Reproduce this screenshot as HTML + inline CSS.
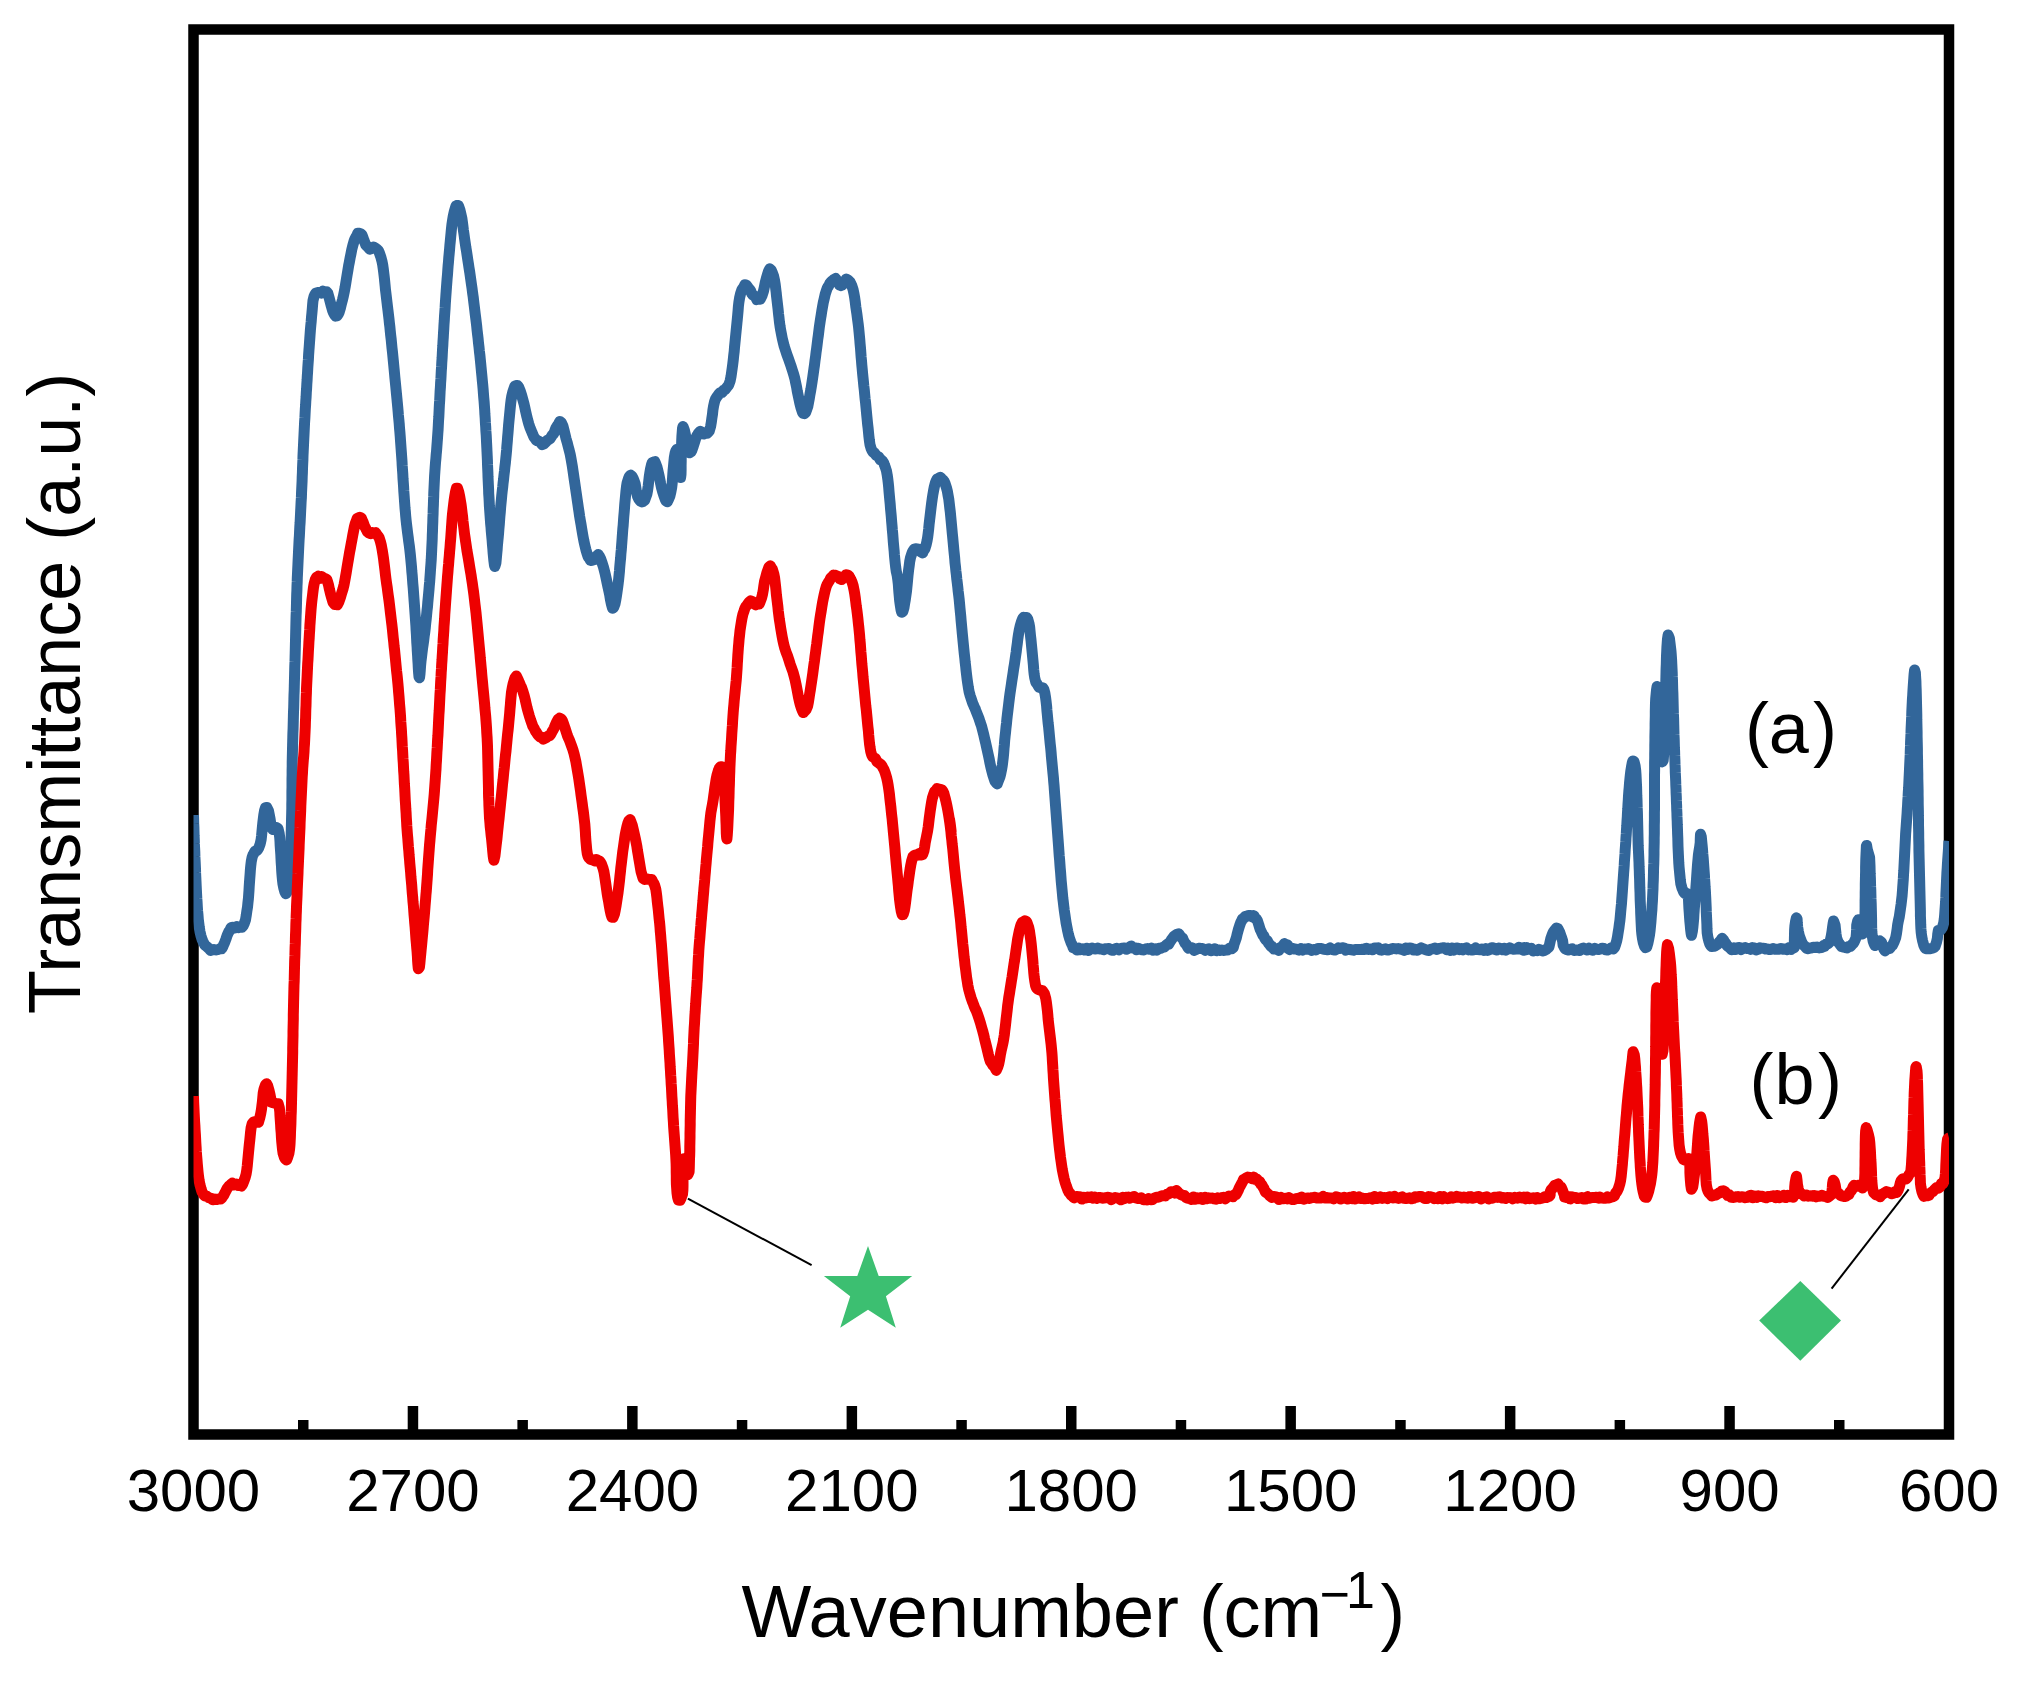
<!DOCTYPE html>
<html><head><meta charset="utf-8"><title>FTIR spectra</title>
<style>
html,body{margin:0;padding:0;background:#fff;}
body{width:2019px;height:1682px;overflow:hidden;}
svg{display:block;}
text{font-family:"Liberation Sans",sans-serif;fill:#000;}
</style></head><body>
<svg width="2019" height="1682" viewBox="0 0 2019 1682">
<defs><clipPath id="plot"><rect x="193.5" y="29.5" width="1755.5" height="1405.0"/></clipPath></defs>
<rect width="2019" height="1682" fill="#fff"/>
<rect x="193.5" y="29.5" width="1755.5" height="1405.0" fill="none" stroke="#000" stroke-width="10.5"/>
<g fill="#000"><rect x="298.0" y="1420" width="10.5" height="12"/><rect x="407.7" y="1406" width="10.5" height="26"/><rect x="517.4" y="1420" width="10.5" height="12"/><rect x="627.1" y="1406" width="10.5" height="26"/><rect x="736.8" y="1420" width="10.5" height="12"/><rect x="846.6" y="1406" width="10.5" height="26"/><rect x="956.3" y="1420" width="10.5" height="12"/><rect x="1066.0" y="1406" width="10.5" height="26"/><rect x="1175.7" y="1420" width="10.5" height="12"/><rect x="1285.4" y="1406" width="10.5" height="26"/><rect x="1395.2" y="1420" width="10.5" height="12"/><rect x="1504.9" y="1406" width="10.5" height="26"/><rect x="1614.6" y="1420" width="10.5" height="12"/><rect x="1724.3" y="1406" width="10.5" height="26"/><rect x="1834.0" y="1420" width="10.5" height="12"/></g>
<g clip-path="url(#plot)" fill="none" stroke-linejoin="round" stroke-linecap="butt" stroke-width="11">
<path stroke="#32669A" d="M193.5,815.1L193.6,819.1L193.7,823.2L193.9,827.3L194.0,831.6L194.1,835.6L194.3,839.7L194.4,844.0L194.6,848.0L194.8,852.1L194.9,856.2L195.1,860.3L195.3,864.4L195.5,868.7L195.6,872.9L195.8,877.2L196.0,881.5L196.2,885.9L196.4,890.2L196.6,894.2L196.8,898.3L197.1,902.4L197.3,906.5L197.6,910.9L198.0,915.1L198.3,919.4L198.8,923.5L199.3,927.5L200.0,931.7L200.9,935.6L202.2,939.8L203.0,941.6L203.8,943.1L204.8,945.1L205.9,945.9L207.4,947.2L208.9,948.4L210.6,950.4L212.3,950.0L214.0,949.5L216.1,950.0L218.2,949.5L220.2,948.7L221.7,948.7L222.8,946.8L223.7,944.5L224.4,943.1L225.9,939.1L227.2,935.3L228.1,933.3L229.0,931.3L229.8,930.5L231.0,927.8L232.7,927.2L234.8,928.0L236.9,926.5L238.6,927.6L240.7,926.5L242.1,927.1L243.3,925.6L244.1,923.8L245.5,919.9L246.2,915.7L246.8,911.4L247.5,907.2L247.9,903.1L248.4,898.7L248.7,894.6L249.0,890.4L249.2,886.4L249.5,882.2L249.8,878.2L250.1,874.2L250.4,869.6L250.8,865.5L251.3,861.3L252.1,857.3L252.9,855.1L253.7,853.7L255.1,851.1L256.8,850.7L258.0,849.1L258.9,847.5L260.2,843.9L261.1,839.8L261.6,835.6L262.0,831.3L262.4,827.1L262.8,823.0L263.3,819.0L263.8,815.0L264.5,810.8L265.5,807.7L266.9,807.5L268.5,810.9L269.3,814.8L270.1,819.1L270.7,823.0L271.5,827.2L272.7,829.4L274.5,828.0L276.4,827.5L278.0,828.6L279.1,833.0L279.7,837.2L280.0,841.4L280.2,845.9L280.5,850.1L280.8,854.3L281.0,858.5L281.2,862.6L281.5,866.6L281.7,870.8L282.0,874.9L282.4,879.3L282.9,883.7L283.7,887.7L284.9,892.0L285.8,893.7L287.0,892.2L288.1,888.0L288.8,884.0L289.2,879.8L289.5,875.5L289.8,871.5L290.0,867.2L290.2,862.9L290.4,858.7L290.6,854.6L290.7,850.2L290.8,846.1L291.0,841.9L291.1,837.8L291.2,833.6L291.3,829.6L291.4,825.4L291.5,821.2L291.6,816.8L291.7,812.7L291.8,808.5L291.8,804.2L291.9,800.0L291.9,795.7L291.9,791.6L292.0,787.5L292.0,783.2L292.0,779.2L292.1,775.0L292.1,770.6L292.2,766.5L292.2,762.3L292.3,757.9L292.4,753.7L292.5,749.5L292.6,745.2L292.7,741.2L292.8,737.1L292.9,732.9L293.1,728.6L293.2,724.3L293.3,720.3L293.4,716.2L293.5,712.0L293.7,707.8L293.8,703.6L293.9,699.3L294.0,695.0L294.2,690.6L294.3,686.2L294.4,682.2L294.5,678.1L294.6,674.1L294.7,670.0L294.8,665.7L295.0,661.4L295.1,657.0L295.2,653.0L295.3,648.9L295.4,644.7L295.5,640.6L295.6,636.4L295.7,632.2L295.8,628.0L295.9,623.7L296.0,619.5L296.1,615.4L296.3,611.2L296.4,607.1L296.5,603.0L296.6,599.0L296.7,594.6L296.9,590.3L297.0,586.1L297.2,582.0L297.3,577.7L297.5,573.7L297.7,569.3L297.9,564.9L298.1,560.6L298.3,556.4L298.5,552.2L298.7,548.1L298.9,544.0L299.1,539.9L299.4,535.5L299.6,531.2L299.8,526.9L300.1,522.7L300.3,518.5L300.5,514.4L300.7,510.3L300.9,506.3L301.1,502.0L301.4,497.5L301.5,493.5L301.7,489.2L301.9,485.0L302.1,480.8L302.2,476.8L302.4,472.8L302.5,468.4L302.7,464.1L302.9,459.9L303.0,455.7L303.2,451.5L303.4,447.2L303.6,443.0L303.8,438.7L304.0,434.7L304.2,430.5L304.4,426.3L304.6,422.0L304.9,417.8L305.1,413.6L305.3,409.4L305.6,405.2L305.8,401.1L306.1,397.0L306.3,392.7L306.6,388.5L306.8,384.4L307.1,380.2L307.3,376.1L307.6,371.8L307.8,367.8L308.1,363.4L308.4,359.3L308.6,355.0L308.9,350.8L309.2,346.8L309.5,342.6L309.8,338.5L310.1,334.2L310.4,330.0L310.8,325.6L311.2,321.5L311.5,317.3L311.9,313.2L312.3,308.8L312.6,304.8L313.0,300.6L314.0,296.5L314.8,294.7L315.9,293.0L317.7,292.6L319.5,292.5L321.2,293.1L322.9,291.2L324.7,292.2L326.7,291.8L327.9,293.4L329.2,298.0L330.2,301.8L331.3,306.0L332.5,310.2L333.4,312.6L334.3,314.2L335.4,316.1L337.1,315.8L338.1,314.4L339.1,312.5L340.3,308.5L341.3,304.2L342.4,300.1L343.4,296.0L344.3,291.6L345.1,287.3L345.8,283.0L346.5,278.7L347.2,274.4L347.9,270.3L348.6,265.9L349.4,261.9L350.2,257.6L351.0,253.6L351.8,249.5L352.9,245.2L354.1,240.9L354.9,239.0L355.8,237.2L356.8,235.6L357.8,233.2L359.3,233.3L360.8,233.7L361.9,234.7L362.8,237.0L364.2,241.0L364.9,242.6L365.7,244.7L366.6,245.7L367.9,247.1L369.8,249.1L371.5,248.7L373.6,247.1L375.7,248.3L377.1,249.4L378.4,250.7L379.3,252.6L380.7,256.6L381.9,260.9L382.7,264.9L383.3,269.1L383.8,273.1L384.3,277.3L384.7,281.4L385.1,285.5L385.5,289.9L386.0,293.9L386.5,298.2L387.0,302.3L387.5,306.6L388.0,310.6L388.5,314.8L389.0,319.1L389.4,323.1L389.9,327.2L390.3,331.4L390.7,335.4L391.2,339.5L391.6,343.7L392.0,348.0L392.5,352.4L392.9,356.5L393.3,360.6L393.7,364.8L394.1,369.0L394.5,373.3L394.9,377.7L395.3,381.8L395.7,385.8L396.1,390.0L396.5,394.1L396.9,398.3L397.3,402.5L397.7,406.8L398.1,411.2L398.4,415.2L398.8,419.3L399.2,423.5L399.5,427.8L399.9,432.2L400.2,436.2L400.5,440.5L400.8,444.6L401.1,448.9L401.4,453.0L401.7,457.1L402.0,461.3L402.2,465.6L402.5,469.9L402.8,474.2L403.0,478.5L403.3,482.7L403.6,487.0L403.8,491.1L404.1,495.1L404.4,499.5L404.7,503.6L405.0,508.0L405.4,512.1L405.7,516.1L406.1,520.3L406.6,524.7L407.1,528.7L407.6,532.8L408.2,537.2L408.7,541.3L409.3,545.6L409.8,549.7L410.3,554.1L410.7,558.3L411.1,562.5L411.5,566.7L411.8,571.1L412.2,575.2L412.5,579.4L412.8,583.6L413.2,587.9L413.5,592.1L413.8,596.4L414.1,600.5L414.4,604.6L414.7,608.9L415.0,613.1L415.3,617.3L415.6,621.6L415.9,626.0L416.1,630.1L416.4,634.5L416.6,638.7L416.8,642.7L417.1,646.9L417.3,651.2L417.6,655.5L417.8,659.5L418.1,663.7L418.3,668.2L418.6,672.6L419.0,676.7L419.5,677.8L420.0,673.9L420.3,669.8L420.6,665.4L421.0,661.3L421.5,657.1L422.0,652.9L422.5,648.8L423.1,644.7L423.7,640.4L424.2,636.2L424.8,631.9L425.3,627.8L425.7,623.6L426.2,619.2L426.6,614.9L427.0,610.8L427.5,606.5L427.8,602.5L428.2,598.3L428.6,594.0L429.0,589.6L429.3,585.6L429.7,581.4L430.0,577.1L430.3,572.8L430.6,568.4L430.9,564.3L431.2,560.2L431.4,556.0L431.6,551.9L431.8,547.6L432.0,543.5L432.2,539.3L432.3,535.1L432.5,530.8L432.6,526.4L432.8,522.1L432.9,517.7L433.1,513.4L433.2,509.1L433.4,504.8L433.5,500.7L433.7,496.7L433.8,492.4L434.0,488.4L434.2,484.2L434.4,480.0L434.6,475.6L434.9,471.3L435.2,467.0L435.5,462.8L435.9,458.6L436.2,454.5L436.6,450.5L436.9,446.1L437.2,442.1L437.5,438.0L437.8,433.7L438.1,429.5L438.3,425.5L438.5,421.4L438.8,417.2L439.0,412.9L439.2,408.5L439.4,404.5L439.7,400.3L439.9,396.1L440.1,391.7L440.4,387.3L440.6,383.2L440.9,379.1L441.1,374.9L441.3,370.8L441.6,366.6L441.8,362.3L442.1,358.2L442.3,354.1L442.5,349.9L442.8,345.7L443.0,341.5L443.3,337.2L443.5,333.0L443.8,328.7L444.0,324.6L444.3,320.4L444.5,316.3L444.8,312.3L445.1,308.1L445.3,303.9L445.6,299.6L445.9,295.1L446.2,291.0L446.5,286.9L446.8,282.8L447.1,278.8L447.5,274.4L447.8,270.1L448.1,265.9L448.5,261.8L448.8,257.5L449.2,253.4L449.6,249.1L449.9,245.2L450.3,241.1L450.7,236.7L451.1,232.6L451.5,228.3L452.0,224.0L452.6,220.0L453.3,215.9L454.3,211.6L455.4,207.9L456.1,205.7L457.2,205.4L458.5,205.7L459.9,209.7L460.9,213.9L461.8,217.9L462.4,222.0L462.9,226.0L463.4,230.2L464.0,234.3L464.6,238.7L465.2,242.9L465.8,247.0L466.5,251.1L467.1,255.1L467.7,259.3L468.4,263.7L469.0,267.7L469.7,272.0L470.3,276.3L470.9,280.6L471.5,284.7L472.1,288.8L472.6,292.9L473.2,297.0L473.7,301.3L474.2,305.4L474.7,309.6L475.2,313.9L475.7,317.8L476.2,321.9L476.7,326.1L477.1,330.2L477.6,334.5L478.1,338.7L478.5,342.9L479.0,347.2L479.4,351.3L479.9,355.4L480.3,359.5L480.7,363.5L481.1,367.8L481.5,372.0L481.9,376.0L482.3,380.5L482.7,384.5L483.1,388.9L483.4,393.1L483.7,397.2L484.1,401.5L484.4,405.8L484.7,410.0L484.9,414.2L485.2,418.4L485.4,422.6L485.7,426.8L485.9,431.1L486.2,435.1L486.4,439.1L486.6,443.2L486.8,447.3L487.0,451.4L487.2,455.7L487.4,459.9L487.5,464.2L487.7,468.4L487.9,472.7L488.0,476.8L488.2,480.9L488.4,485.3L488.6,489.5L488.7,493.6L489.0,497.8L489.2,501.8L489.4,506.2L489.7,510.4L490.0,514.7L490.3,518.8L490.6,523.1L491.0,527.2L491.3,531.5L491.7,535.7L492.1,539.9L492.4,544.1L492.8,548.4L493.1,552.7L493.5,556.8L493.9,560.9L494.4,564.9L494.8,566.5L495.9,563.1L496.3,558.7L496.7,554.3L497.1,550.0L497.4,545.7L497.8,541.5L498.2,537.4L498.6,533.0L498.9,528.8L499.3,524.5L499.6,520.4L499.9,516.2L500.3,512.0L500.6,507.8L501.0,503.6L501.4,499.4L501.8,495.1L502.2,491.2L502.7,487.1L503.1,483.0L503.6,479.0L504.0,475.0L504.5,470.9L504.9,466.8L505.4,462.8L505.8,458.5L506.2,454.5L506.6,450.2L506.9,445.9L507.3,441.6L507.6,437.3L508.0,433.1L508.3,429.1L508.6,424.9L509.0,420.7L509.4,416.6L509.8,412.5L510.2,408.3L510.6,404.3L511.1,400.1L511.8,396.0L512.9,391.5L514.2,387.9L515.0,385.8L516.1,385.6L517.5,385.5L518.6,387.0L519.4,388.9L520.4,391.4L521.7,395.5L522.8,399.5L523.9,403.4L524.8,407.4L525.7,411.6L526.7,415.9L527.7,420.0L528.8,424.0L530.2,428.2L531.4,431.0L532.2,433.0L533.0,434.8L533.9,437.0L534.9,438.2L536.2,440.1L537.5,440.8L538.9,441.3L540.6,442.3L542.3,444.7L544.1,443.8L545.9,441.9L547.3,440.2L548.6,439.8L550.0,438.7L551.3,436.7L552.5,434.8L553.5,433.8L554.4,432.2L555.1,430.1L555.8,428.3L556.7,426.7L557.7,425.1L558.6,423.8L559.8,421.4L561.4,422.6L562.9,426.0L564.0,430.2L565.0,434.3L566.0,438.5L567.1,442.2L568.2,446.5L569.2,450.2L570.2,454.3L571.0,458.6L571.7,462.4L572.4,466.6L573.0,470.8L573.6,474.9L574.2,479.1L574.8,483.1L575.4,487.2L576.0,491.5L576.6,495.5L577.2,499.7L577.8,503.8L578.4,508.0L579.0,511.9L579.6,516.1L580.3,520.3L581.0,524.3L581.7,528.7L582.4,532.9L583.1,536.9L583.9,541.0L584.8,545.1L585.8,549.3L587.0,553.3L587.8,555.9L588.5,557.4L589.4,558.3L590.6,560.5L592.3,560.3L593.9,559.6L595.2,558.0L596.7,556.1L598.3,554.6L599.7,556.8L600.6,558.7L602.2,563.2L603.4,566.9L604.5,571.1L605.4,574.8L606.3,579.0L607.2,583.4L608.1,587.5L609.0,591.6L609.8,595.5L610.5,599.8L611.4,604.0L612.5,608.2L613.6,607.7L615.0,603.9L615.8,599.9L616.5,595.6L617.1,591.4L617.7,587.3L618.2,583.3L618.7,579.0L619.1,574.9L619.5,570.7L619.8,566.4L620.2,562.1L620.6,558.1L620.9,553.8L621.3,549.7L621.6,545.6L621.9,541.6L622.2,537.5L622.5,533.4L622.8,529.1L623.2,525.1L623.5,520.7L623.8,516.4L624.2,512.1L624.5,508.0L624.8,503.7L625.2,499.4L625.6,495.2L626.0,490.8L626.5,486.7L627.1,482.9L628.3,479.0L629.1,476.9L630.5,475.1L632.0,476.3L633.1,478.2L633.9,480.3L635.2,483.9L635.9,488.2L636.5,492.2L637.6,496.6L638.5,498.6L639.5,500.2L640.5,501.1L642.0,501.9L643.5,501.3L644.7,500.2L645.5,497.9L646.9,494.1L647.6,490.2L648.2,485.9L648.7,481.5L649.2,477.1L649.8,473.1L650.5,469.0L651.5,464.7L652.4,462.3L653.5,462.1L654.8,461.7L655.6,463.4L657.1,467.5L658.1,471.6L659.1,475.7L659.9,479.8L660.7,483.9L661.6,488.0L662.8,492.3L664.1,496.2L665.1,499.0L665.9,500.8L667.3,501.8L668.4,499.6L669.9,496.1L670.9,491.7L671.7,487.5L672.2,483.1L672.5,478.8L672.8,474.3L673.1,470.2L673.5,466.2L673.9,461.8L674.3,457.7L675.1,453.2L675.8,451.0L676.9,449.3L678.5,452.7L678.9,456.7L679.2,461.1L679.6,465.2L679.9,469.2L680.2,473.5L680.6,477.6L681.0,474.3L681.1,470.1L681.1,466.0L681.2,461.5L681.2,457.5L681.3,453.2L681.4,449.0L681.6,445.0L681.7,440.9L681.9,436.5L682.2,432.5L682.5,428.4L683.0,426.5L684.4,430.2L685.3,434.3L686.1,438.7L686.7,442.8L687.5,446.6L688.7,451.1L689.5,452.8L691.0,451.9L691.8,450.4L693.3,446.1L694.6,442.0L695.9,437.9L696.6,436.4L697.5,434.9L698.6,432.9L700.3,431.3L702.2,432.3L703.9,434.0L705.5,433.3L707.1,433.3L708.3,432.1L709.3,430.8L710.6,426.5L711.3,422.4L711.9,418.1L712.5,414.1L712.9,410.1L713.6,405.9L714.6,401.5L715.4,399.2L716.3,397.8L717.6,395.8L719.0,394.0L720.5,392.5L722.0,392.6L723.7,390.1L725.3,389.5L726.6,387.6L727.8,386.1L728.7,385.0L730.1,381.0L731.0,376.7L731.6,372.4L732.2,368.2L732.8,363.7L733.3,359.5L733.7,355.5L734.2,351.4L734.5,347.4L734.9,343.4L735.3,339.4L735.7,335.3L736.1,331.3L736.5,327.2L736.9,323.2L737.3,319.2L737.7,315.0L738.1,310.6L738.4,306.4L738.9,302.1L739.6,297.8L740.6,293.5L741.7,290.3L742.5,288.7L743.6,287.4L744.9,284.7L746.6,285.4L747.9,287.2L748.8,288.8L749.8,289.6L750.8,291.1L751.8,293.7L752.9,295.1L754.1,295.8L755.3,296.5L756.8,299.6L758.4,299.1L760.2,299.2L761.2,297.2L762.2,295.2L763.5,291.0L764.4,286.9L765.3,282.4L766.3,278.5L767.4,274.7L768.6,271.1L769.8,268.8L771.2,270.2L772.2,272.3L773.6,276.2L774.5,280.3L775.2,284.4L775.7,288.6L776.2,292.6L776.6,296.7L777.1,300.8L777.6,305.2L778.1,309.4L778.5,313.6L779.0,317.8L779.4,321.7L780.0,326.0L780.7,330.3L781.5,334.4L782.3,338.5L783.3,342.6L784.3,346.6L785.6,350.5L786.9,354.5L788.3,358.2L789.7,362.3L791.0,366.0L792.4,370.4L793.7,374.5L794.8,378.5L795.7,382.9L796.6,387.1L797.3,391.3L798.1,395.2L799.0,399.4L799.9,403.6L801.0,407.8L802.4,412.2L803.2,413.4L804.6,413.7L805.7,412.3L806.5,410.1L807.8,406.4L808.6,402.2L809.3,398.4L810.0,394.1L810.8,389.9L811.5,385.6L812.1,381.6L812.7,377.6L813.3,373.4L813.9,369.0L814.5,364.9L815.0,360.7L815.6,356.4L816.1,352.2L816.7,348.0L817.2,344.0L817.7,339.8L818.3,335.6L818.8,331.5L819.3,327.4L819.9,323.2L820.5,319.2L821.2,315.0L821.8,311.0L822.5,307.0L823.3,302.6L824.2,298.7L825.2,294.2L826.4,290.5L827.1,288.4L827.8,287.1L828.7,285.9L829.8,283.4L831.0,281.9L832.2,281.0L833.8,279.5L835.6,278.5L837.1,280.5L838.3,282.2L839.4,284.9L840.9,285.6L842.4,284.9L843.7,282.2L844.9,281.5L846.1,279.1L847.7,279.8L849.1,281.1L850.2,282.2L851.1,284.2L851.9,285.8L853.1,289.7L854.0,293.9L854.7,297.9L855.3,302.3L855.8,306.7L856.4,310.7L857.0,314.8L857.5,318.9L858.1,323.2L858.6,327.4L859.0,331.5L859.4,335.8L859.8,340.0L860.1,344.0L860.5,348.2L860.8,352.4L861.1,356.7L861.5,360.8L861.8,364.9L862.2,369.1L862.6,373.4L863.0,377.6L863.4,381.5L863.8,385.8L864.3,390.1L864.7,394.4L865.1,398.8L865.6,402.9L866.0,407.2L866.4,411.5L866.8,415.7L867.2,419.8L867.6,424.0L868.1,428.1L868.5,432.3L868.9,436.4L869.4,440.6L870.0,444.7L871.1,448.6L872.0,450.6L873.1,452.3L874.5,453.0L876.0,455.2L877.3,456.1L878.8,457.0L880.2,459.8L881.6,460.1L882.7,461.3L883.7,462.9L884.5,465.1L885.2,466.9L886.4,470.6L887.2,474.9L887.8,479.1L888.3,483.4L888.7,487.4L889.0,491.4L889.4,495.8L889.8,500.1L890.2,504.1L890.5,508.3L890.9,512.6L891.3,516.8L891.6,521.1L892.0,525.4L892.3,529.5L892.7,533.6L893.0,537.7L893.3,541.8L893.7,546.2L894.1,550.4L894.4,554.7L894.8,558.9L895.2,563.0L895.7,567.4L896.3,571.6L897.2,575.5L897.8,579.8L898.3,584.0L898.6,588.4L898.9,592.4L899.3,596.8L899.7,601.0L900.3,605.3L901.0,609.7L901.7,612.2L902.8,611.7L903.9,608.0L904.6,603.7L905.3,599.7L905.9,595.5L906.5,591.2L906.9,587.1L907.3,583.1L907.7,578.8L908.1,574.5L908.6,570.2L909.2,565.8L909.7,561.7L910.5,557.7L911.7,553.9L912.5,551.8L913.3,550.5L914.4,548.9L915.9,548.8L917.7,548.9L919.3,549.8L920.9,551.8L922.6,552.9L923.9,550.0L924.8,549.2L926.1,544.9L927.0,541.1L927.7,537.0L928.2,533.1L928.7,528.8L929.1,524.4L929.6,520.1L930.1,516.0L930.6,511.7L931.1,507.4L931.6,503.3L932.2,498.9L932.8,495.0L933.5,491.0L934.3,486.9L935.4,482.8L936.3,480.5L937.2,478.8L938.5,478.3L940.3,477.3L942.0,479.1L943.3,480.3L944.3,481.6L945.0,483.2L946.4,487.5L947.4,491.3L948.1,495.5L948.8,499.3L949.3,503.7L949.8,508.0L950.3,512.0L950.7,516.3L951.1,520.5L951.5,524.8L951.9,529.1L952.3,533.4L952.7,537.4L953.1,541.7L953.5,546.0L953.9,550.4L954.3,554.4L954.7,558.4L955.0,562.6L955.5,566.8L955.9,571.1L956.4,575.0L956.8,579.1L957.3,583.2L957.8,587.3L958.2,591.4L958.7,595.4L959.2,599.7L959.6,604.1L960.0,608.4L960.4,612.5L960.8,616.5L961.1,620.5L961.5,624.8L961.9,629.1L962.3,633.4L962.7,637.5L963.1,641.7L963.5,645.8L963.9,649.9L964.3,653.9L964.8,658.2L965.2,662.4L965.7,666.6L966.1,670.6L966.6,674.9L967.1,679.0L967.7,683.3L968.3,687.3L969.1,691.7L970.2,695.8L971.5,699.6L972.7,703.2L973.5,705.0L974.3,707.0L975.1,708.5L975.9,710.7L977.5,714.7L978.9,718.3L980.3,722.6L981.6,726.3L982.7,730.7L983.7,734.5L984.6,738.5L985.6,742.6L986.5,746.7L987.4,750.9L988.3,754.9L989.2,759.0L989.9,762.9L990.8,766.9L991.8,770.9L992.9,775.0L994.2,778.9L994.9,781.1L995.8,782.3L997.2,783.9L998.3,781.1L999.8,777.3L1000.8,773.5L1001.6,769.5L1002.3,765.3L1002.8,761.3L1003.3,757.0L1003.7,752.8L1004.0,748.6L1004.4,744.4L1004.7,740.2L1005.1,736.2L1005.6,731.8L1006.0,727.5L1006.5,723.3L1006.9,719.0L1007.4,714.7L1007.9,710.5L1008.4,706.4L1008.9,702.2L1009.4,698.0L1010.0,693.6L1010.6,689.5L1011.2,685.5L1011.8,681.2L1012.4,677.3L1013.1,672.8L1013.7,668.5L1014.4,664.3L1015.0,660.2L1015.6,656.0L1016.2,652.0L1016.7,647.7L1017.3,643.4L1017.8,639.2L1018.4,634.9L1019.2,630.5L1020.1,626.3L1021.2,622.5L1021.8,620.7L1022.6,618.7L1023.6,617.4L1025.2,617.8L1026.8,617.5L1027.8,619.2L1029.0,623.4L1029.7,627.5L1030.1,631.7L1030.5,635.8L1031.0,640.0L1031.4,644.3L1031.8,648.4L1032.2,652.6L1032.6,656.7L1033.0,660.9L1033.4,665.3L1033.7,669.7L1034.1,673.7L1034.7,677.7L1035.8,682.2L1036.6,683.2L1037.7,685.0L1039.2,687.6L1041.2,687.4L1043.0,688.0L1043.8,689.2L1044.9,693.3L1045.6,697.6L1046.1,701.6L1046.6,706.0L1046.9,710.2L1047.3,714.2L1047.7,718.5L1048.1,722.8L1048.6,726.8L1049.0,731.0L1049.4,735.3L1049.8,739.6L1050.2,743.8L1050.7,748.2L1051.1,752.4L1051.4,756.5L1051.8,760.7L1052.2,764.9L1052.6,769.2L1053.0,773.4L1053.4,777.6L1053.7,781.6L1054.1,786.0L1054.4,790.4L1054.7,794.4L1055.0,798.4L1055.3,802.4L1055.6,806.4L1055.9,810.4L1056.2,814.4L1056.5,818.4L1056.8,822.5L1057.1,826.5L1057.4,830.6L1057.7,834.6L1058.0,838.7L1058.3,842.7L1058.6,846.7L1058.9,851.1L1059.2,855.4L1059.6,859.7L1059.9,864.0L1060.2,868.2L1060.6,872.5L1060.9,876.6L1061.2,880.8L1061.6,885.1L1062.0,889.3L1062.4,893.5L1062.8,898.0L1063.3,902.0L1063.8,906.3L1064.3,910.5L1064.9,914.6L1065.5,918.8L1066.1,922.9L1066.9,927.0L1067.7,931.1L1068.6,935.1L1069.8,939.2L1070.9,942.2L1071.7,944.0L1072.6,945.8L1073.2,947.8L1075.2,948.4L1077.1,950.1L1078.8,948.3L1080.8,949.7L1082.8,948.9L1084.6,950.0L1086.7,948.3L1088.4,950.6L1090.2,948.9L1092.0,948.1L1093.9,948.7L1095.8,949.0L1097.7,948.0L1099.6,949.1L1101.5,949.0L1103.4,949.8L1105.3,948.8L1107.1,948.6L1108.9,948.4L1110.9,949.8L1112.9,950.3L1114.7,949.1L1116.6,948.3L1119.0,949.8L1120.7,948.7L1122.7,948.2L1124.6,947.9L1126.3,949.3L1128.3,948.5L1129.6,946.9L1131.3,946.1L1132.3,947.9L1134.8,947.7L1136.5,949.8L1138.3,948.3L1140.3,949.2L1142.0,949.8L1143.9,949.9L1145.8,949.0L1147.7,948.6L1149.6,949.3L1151.4,948.2L1153.2,950.1L1155.2,948.8L1156.9,950.0L1158.7,948.2L1160.8,948.2L1162.5,947.4L1164.2,947.1L1165.7,945.6L1167.2,944.2L1168.7,944.3L1169.8,942.2L1170.8,940.7L1171.7,939.3L1172.8,937.9L1174.1,936.2L1175.5,935.2L1177.0,934.3L1178.8,933.8L1180.3,936.1L1181.4,937.4L1182.5,937.8L1183.5,940.4L1184.4,942.0L1185.2,943.4L1186.3,944.4L1187.6,946.9L1188.3,948.2L1190.2,947.4L1192.0,947.6L1194.0,950.3L1195.7,949.6L1197.5,948.6L1199.4,948.3L1201.5,948.4L1203.2,948.8L1205.1,950.3L1207.0,949.2L1208.9,948.7L1210.8,950.7L1212.7,950.4L1214.7,948.8L1216.5,950.7L1218.4,949.9L1220.2,950.4L1221.9,950.0L1223.9,950.5L1225.7,950.1L1227.6,950.1L1229.8,948.0L1231.8,948.8L1233.3,947.4L1234.3,943.5L1235.0,941.7L1236.3,937.9L1237.3,933.6L1238.4,929.5L1239.7,925.4L1240.7,922.5L1241.5,921.1L1242.5,918.9L1243.7,918.3L1245.1,916.4L1246.6,916.2L1248.6,915.5L1250.4,915.5L1252.4,916.8L1253.9,915.6L1255.3,918.5L1256.6,919.2L1257.5,920.9L1258.8,924.9L1260.1,929.3L1260.9,930.9L1261.8,932.8L1262.8,935.1L1263.8,935.9L1264.8,938.3L1266.0,940.0L1267.3,940.8L1268.4,943.0L1269.5,944.4L1270.9,946.4L1272.2,946.5L1273.7,949.0L1275.2,948.8L1277.1,949.3L1278.8,950.4L1280.4,947.4L1281.6,947.2L1283.1,945.5L1284.4,943.6L1286.0,944.6L1287.3,944.7L1288.4,946.3L1287.2,947.9L1289.9,949.6L1291.9,948.2L1293.7,948.9L1295.5,949.0L1297.2,949.4L1299.0,950.1L1300.9,948.7L1302.6,950.1L1304.4,949.0L1306.3,949.2L1308.1,948.6L1310.1,949.2L1311.8,950.4L1313.7,949.5L1315.7,949.9L1317.9,948.6L1319.6,948.6L1321.5,948.5L1323.4,949.3L1325.5,949.4L1327.7,949.8L1330.0,947.8L1332.4,949.6L1334.9,950.1L1336.7,949.2L1338.5,947.8L1340.2,948.5L1342.1,947.7L1344.1,948.2L1345.9,950.2L1347.7,949.3L1349.7,949.5L1351.6,949.8L1353.4,950.2L1355.1,949.4L1356.9,949.4L1358.7,949.4L1360.6,949.6L1362.5,949.3L1364.5,949.5L1366.5,948.3L1368.5,949.5L1370.5,949.0L1372.6,949.8L1374.7,948.0L1376.5,948.2L1378.2,947.8L1379.9,949.8L1381.7,950.2L1383.5,949.5L1385.3,948.7L1387.1,950.0L1388.9,949.9L1390.7,949.3L1392.6,948.4L1394.4,948.6L1396.3,948.9L1398.2,948.6L1400.1,948.9L1402.0,949.5L1403.9,950.3L1405.8,947.9L1407.7,949.3L1409.6,947.9L1411.5,948.1L1413.5,950.0L1415.4,949.3L1417.4,950.3L1419.3,949.0L1421.2,947.8L1423.2,948.8L1425.1,949.4L1427.1,950.3L1429.0,950.4L1431.0,949.1L1432.9,948.9L1434.8,948.1L1436.8,949.5L1438.7,948.4L1440.6,948.2L1442.6,947.8L1444.5,947.8L1446.4,949.6L1448.3,948.1L1450.2,950.4L1452.0,948.0L1453.9,950.2L1455.8,948.2L1457.6,947.9L1459.4,949.7L1461.3,948.5L1463.1,949.8L1464.9,948.3L1466.6,947.9L1468.4,949.9L1470.1,949.7L1471.9,950.1L1473.6,949.8L1475.7,948.0L1477.8,949.5L1479.8,949.7L1481.9,949.0L1483.9,950.3L1485.8,948.5L1487.7,950.4L1489.6,949.7L1491.4,947.8L1493.2,947.8L1495.0,949.5L1496.7,950.0L1498.7,948.0L1500.6,948.6L1502.5,949.7L1504.3,948.2L1506.0,950.1L1507.9,949.0L1509.7,947.9L1511.6,948.7L1513.4,949.2L1519.7,948.8L1523.9,949.3L1526.5,947.8L1527.4,949.0L1524.5,947.5L1522.8,948.1L1521.1,948.0L1518.8,947.3L1520.2,948.0L1521.9,949.6L1523.7,950.2L1525.5,949.9L1527.3,949.5L1529.4,948.9L1531.3,948.4L1533.2,950.9L1535.1,950.3L1537.1,950.7L1539.0,949.4L1540.8,950.1L1542.5,951.0L1544.4,950.4L1546.2,949.4L1547.8,947.9L1549.0,946.9L1549.9,942.8L1550.8,938.6L1552.2,934.7L1552.9,932.8L1553.7,931.5L1554.9,929.9L1556.4,928.1L1557.9,928.5L1559.0,930.8L1559.9,932.7L1561.3,936.7L1562.6,940.7L1563.1,945.1L1563.7,946.2L1564.9,948.6L1566.5,949.5L1568.3,950.1L1570.1,949.5L1572.2,948.8L1574.0,950.4L1575.8,950.3L1577.7,949.9L1579.6,950.5L1581.5,948.9L1583.3,948.1L1585.0,949.3L1587.0,949.9L1588.8,948.2L1590.8,949.7L1592.7,950.2L1594.7,948.3L1596.5,949.3L1598.5,949.5L1600.4,948.9L1602.1,948.3L1603.9,948.5L1605.7,949.9L1607.4,950.1L1609.4,949.1L1611.5,947.8L1613.3,949.0L1614.6,947.3L1615.5,944.8L1616.7,940.9L1617.5,936.9L1618.1,932.9L1618.8,928.7L1619.3,924.7L1619.9,920.5L1620.3,916.4L1620.7,911.8L1621.1,907.6L1621.5,903.4L1621.8,899.1L1622.1,895.0L1622.4,890.8L1622.7,886.5L1623.0,882.2L1623.3,877.8L1623.6,873.7L1623.9,869.6L1624.2,865.6L1624.4,861.6L1624.7,857.6L1625.0,853.6L1625.2,849.6L1625.5,845.6L1625.8,841.6L1626.0,837.6L1626.3,833.6L1626.5,829.6L1626.8,825.4L1627.0,821.2L1627.3,816.9L1627.5,812.6L1627.8,808.4L1628.0,804.3L1628.3,800.0L1628.5,796.0L1628.8,791.8L1629.2,787.6L1629.5,783.4L1629.9,779.3L1630.3,775.3L1630.8,771.1L1631.5,766.8L1632.3,762.6L1632.9,760.9L1634.1,761.7L1635.1,765.8L1635.7,770.4L1636.0,774.6L1636.2,778.7L1636.4,783.0L1636.6,787.2L1636.7,791.5L1636.8,795.6L1637.0,799.6L1637.1,803.9L1637.2,808.0L1637.4,812.1L1637.5,816.4L1637.6,820.6L1637.7,824.8L1637.8,828.9L1637.9,833.0L1638.0,837.3L1638.1,841.4L1638.2,845.6L1638.4,849.9L1638.6,854.0L1638.8,858.4L1639.0,862.5L1639.1,866.6L1639.3,870.8L1639.4,875.1L1639.6,879.4L1639.7,883.5L1639.8,887.8L1640.0,892.2L1640.1,896.5L1640.2,900.7L1640.4,905.1L1640.6,909.1L1640.7,913.6L1640.9,917.8L1641.1,922.2L1641.3,926.3L1641.5,930.4L1641.9,934.5L1642.5,938.7L1643.4,943.0L1644.6,946.4L1645.5,947.7L1646.7,947.1L1647.9,943.2L1648.8,938.9L1649.5,935.0L1650.1,930.6L1650.5,926.3L1650.9,922.3L1651.2,918.2L1651.5,914.2L1651.9,909.8L1652.1,905.5L1652.4,901.4L1652.6,897.0L1652.8,892.8L1653.0,888.7L1653.1,884.4L1653.3,880.3L1653.4,876.2L1653.5,872.0L1653.6,867.7L1653.8,863.5L1653.9,859.4L1654.0,855.0L1654.0,850.8L1654.1,846.6L1654.2,842.4L1654.2,838.1L1654.3,833.8L1654.3,829.8L1654.3,825.6L1654.4,821.2L1654.4,816.9L1654.4,812.9L1654.5,808.7L1654.5,804.3L1654.5,800.3L1654.5,796.1L1654.5,792.0L1654.5,787.8L1654.5,783.6L1654.5,779.5L1654.5,775.4L1654.6,771.0L1654.6,766.8L1654.6,762.6L1654.7,758.2L1654.7,753.8L1654.8,749.4L1654.8,745.1L1654.9,740.8L1654.9,736.7L1655.0,732.3L1655.1,728.2L1655.1,724.0L1655.2,720.0L1655.3,715.9L1655.3,711.5L1655.4,707.2L1655.5,702.9L1655.7,698.7L1656.1,694.2L1656.5,690.2L1657.1,686.4L1658.3,689.8L1658.8,694.1L1659.1,698.4L1659.4,702.5L1659.6,706.9L1659.7,711.0L1659.9,715.4L1660.0,719.4L1660.2,723.5L1660.3,727.5L1660.5,731.8L1660.7,736.0L1660.9,740.4L1661.1,745.0L1661.4,749.0L1661.6,753.5L1661.9,757.8L1662.4,761.9L1663.2,760.3L1663.5,756.3L1663.8,752.1L1664.0,747.8L1664.2,743.7L1664.4,739.6L1664.5,735.5L1664.7,731.1L1664.9,727.0L1665.0,722.8L1665.1,718.5L1665.2,714.5L1665.2,710.4L1665.3,706.3L1665.4,702.2L1665.4,698.1L1665.5,694.0L1665.6,690.0L1665.7,685.9L1665.8,681.7L1665.9,677.3L1666.0,672.9L1666.1,668.5L1666.3,664.2L1666.4,660.2L1666.5,656.0L1666.7,652.0L1666.9,647.5L1667.2,643.2L1667.5,639.0L1668.1,635.0L1669.4,638.3L1670.0,642.9L1670.5,647.1L1671.0,651.3L1671.3,655.4L1671.6,659.8L1671.8,664.3L1672.0,668.3L1672.2,672.4L1672.3,676.5L1672.5,680.6L1672.6,685.0L1672.7,689.2L1672.9,693.6L1673.0,697.6L1673.1,701.7L1673.2,705.8L1673.3,709.9L1673.4,714.0L1673.6,718.0L1673.7,722.3L1673.8,726.5L1673.9,730.9L1674.0,735.0L1674.2,739.1L1674.3,743.3L1674.4,747.3L1674.6,751.5L1674.7,755.7L1674.9,759.9L1675.0,764.2L1675.2,768.3L1675.3,772.5L1675.5,776.6L1675.7,780.9L1675.8,784.9L1676.0,788.9L1676.1,792.9L1676.3,796.9L1676.4,800.9L1676.6,804.9L1676.7,808.9L1676.9,812.9L1677.0,816.9L1677.2,820.9L1677.3,825.1L1677.5,829.4L1677.6,833.8L1677.8,838.1L1677.9,842.3L1678.0,846.4L1678.2,850.7L1678.4,854.9L1678.6,859.0L1678.8,863.2L1679.1,867.3L1679.5,871.5L1679.9,875.6L1680.3,879.7L1680.8,883.8L1681.9,887.8L1682.6,889.5L1683.6,891.9L1684.8,893.3L1686.5,893.2L1688.2,895.4L1688.5,899.7L1688.7,903.9L1688.9,908.0L1689.2,912.2L1689.5,916.5L1689.8,920.7L1690.2,924.8L1690.6,929.3L1691.1,933.4L1691.5,935.3L1692.4,931.1L1692.9,927.1L1693.3,922.8L1693.7,918.6L1693.9,914.3L1694.2,910.1L1694.5,906.1L1694.8,901.8L1695.2,897.6L1695.5,893.3L1695.8,888.9L1696.1,884.7L1696.4,880.6L1696.7,876.3L1697.0,872.0L1697.3,867.7L1697.6,863.7L1698.0,859.4L1698.4,855.1L1699.0,850.9L1699.7,846.8L1700.2,842.8L1700.3,838.5L1700.5,834.3L1701.3,836.7L1701.7,840.9L1702.1,845.0L1702.5,849.3L1702.8,853.7L1703.2,857.9L1703.5,862.3L1703.8,866.6L1704.1,870.8L1704.4,874.8L1704.6,878.8L1704.9,882.9L1705.1,886.9L1705.4,890.9L1705.6,895.0L1705.8,899.0L1706.0,903.3L1706.2,907.7L1706.3,912.0L1706.5,916.1L1706.7,920.2L1706.9,924.4L1707.0,928.8L1707.2,932.9L1707.9,937.3L1708.9,941.3L1709.7,943.8L1710.5,945.4L1711.7,946.6L1713.7,946.4L1715.5,945.6L1717.1,944.6L1718.2,943.6L1719.4,941.7L1720.6,940.6L1722.0,938.3L1723.6,940.0L1724.9,942.5L1725.9,943.5L1726.9,945.4L1728.3,946.7L1729.5,947.5L1731.6,949.7L1733.7,947.9L1735.5,949.3L1737.4,947.6L1739.4,947.4L1741.2,949.6L1743.1,948.5L1745.2,947.5L1746.9,948.4L1748.7,948.5L1750.5,949.3L1752.3,947.6L1754.2,947.9L1756.1,949.9L1758.1,949.3L1760.0,947.7L1761.9,948.2L1763.8,948.2L1765.6,949.1L1767.5,948.9L1769.2,949.5L1770.9,949.5L1773.0,948.6L1774.9,949.2L1776.7,949.2L1778.6,949.2L1780.9,948.4L1783.2,949.2L1785.1,949.0L1787.2,949.6L1789.2,947.5L1791.0,949.4L1792.7,946.8L1794.2,947.8L1794.3,943.3L1794.4,938.9L1794.5,934.5L1794.6,930.2L1794.9,926.0L1795.5,921.7L1796.4,917.8L1797.1,919.0L1797.3,923.2L1797.7,927.3L1798.4,931.5L1799.3,935.6L1800.7,939.4L1801.6,941.9L1802.6,943.8L1803.7,945.2L1805.0,946.4L1806.5,948.2L1808.2,948.8L1810.0,948.0L1811.7,947.9L1813.5,947.2L1815.4,947.5L1817.2,947.0L1819.3,947.9L1821.5,947.6L1823.3,945.7L1824.6,946.3L1826.0,944.0L1827.7,944.0L1829.3,942.5L1830.3,940.5L1831.3,935.8L1832.0,931.6L1832.5,927.7L1833.1,923.6L1833.6,920.9L1835.1,925.3L1835.5,929.3L1836.0,933.7L1836.6,937.8L1837.5,940.3L1838.3,942.4L1839.2,943.4L1840.4,945.1L1841.7,946.7L1843.3,947.0L1845.3,947.6L1846.9,947.9L1848.7,946.4L1850.4,946.5L1851.9,944.7L1853.3,943.3L1854.5,941.3L1856.0,937.9L1856.4,933.6L1856.6,929.4L1856.7,925.1L1857.6,921.1L1858.3,919.8L1859.5,919.7L1860.7,923.7L1861.7,927.9L1862.4,932.1L1862.8,933.9L1864.3,930.5L1864.7,926.5L1864.9,922.2L1865.0,918.1L1865.0,913.6L1865.1,909.2L1865.1,905.1L1865.1,901.0L1865.2,896.9L1865.2,892.7L1865.3,888.5L1865.3,884.2L1865.4,879.9L1865.5,875.6L1865.6,871.6L1865.6,867.2L1865.7,863.1L1865.8,859.0L1866.0,854.6L1866.2,850.4L1866.4,846.1L1866.6,845.4L1867.3,849.5L1868.6,854.0L1869.6,857.3L1869.8,861.5L1870.0,865.7L1870.1,870.0L1870.2,874.1L1870.4,878.2L1870.5,882.2L1870.6,886.4L1870.8,890.5L1870.9,894.8L1871.0,899.0L1871.2,903.2L1871.3,907.2L1871.4,911.4L1871.5,915.7L1871.6,919.9L1871.6,924.2L1871.7,928.4L1871.9,932.5L1872.4,936.8L1873.1,940.9L1873.9,943.3L1875.0,945.6L1876.7,943.5L1878.3,942.1L1879.9,940.9L1881.5,942.2L1882.8,946.2L1883.7,948.8L1885.0,950.9L1886.8,948.8L1888.4,948.0L1889.9,948.4L1891.3,946.2L1892.4,945.4L1893.4,943.3L1894.4,941.3L1895.7,937.6L1896.5,933.4L1897.1,929.2L1897.6,925.1L1898.4,920.8L1899.3,916.7L1899.9,912.6L1900.5,908.5L1901.1,904.2L1901.6,899.9L1902.1,895.6L1902.4,891.6L1902.7,887.4L1903.0,883.3L1903.3,879.1L1903.5,874.9L1903.8,870.7L1904.0,866.6L1904.2,862.6L1904.4,858.6L1904.6,854.6L1904.8,850.6L1905.0,846.5L1905.2,842.5L1905.4,838.5L1905.6,834.2L1905.9,830.0L1906.2,825.8L1906.5,821.6L1906.8,817.5L1907.1,813.2L1907.3,809.2L1907.6,804.9L1907.8,800.8L1908.1,796.6L1908.3,792.3L1908.6,788.2L1908.8,784.1L1909.0,779.8L1909.2,775.4L1909.4,771.4L1909.6,767.1L1909.8,762.8L1910.0,758.7L1910.2,754.5L1910.3,750.2L1910.5,745.9L1910.6,741.6L1910.8,737.4L1911.0,733.2L1911.1,728.9L1911.3,724.8L1911.5,720.6L1911.7,716.4L1911.8,712.1L1912.0,707.7L1912.2,703.7L1912.4,699.6L1912.7,695.4L1912.9,691.4L1913.2,686.9L1913.5,682.5L1913.8,678.3L1914.1,674.1L1914.6,670.0L1915.4,672.8L1915.6,676.9L1915.9,681.1L1916.0,685.3L1916.2,690.0L1916.3,694.2L1916.4,698.3L1916.5,702.3L1916.6,706.6L1916.7,710.7L1916.8,714.9L1916.8,719.2L1916.9,723.6L1917.0,728.0L1917.1,732.0L1917.1,736.0L1917.2,740.4L1917.3,744.5L1917.4,748.8L1917.4,753.2L1917.5,757.2L1917.6,761.4L1917.6,765.5L1917.7,769.7L1917.8,773.9L1917.8,778.1L1917.9,782.2L1918.0,786.2L1918.1,790.6L1918.1,794.8L1918.2,798.9L1918.2,803.1L1918.3,807.5L1918.4,811.6L1918.4,815.7L1918.5,820.1L1918.5,824.4L1918.6,828.6L1918.7,832.8L1918.7,837.1L1918.8,841.3L1918.9,845.6L1918.9,849.6L1919.0,853.7L1919.1,857.8L1919.2,862.0L1919.3,866.1L1919.4,870.3L1919.5,874.4L1919.6,878.5L1919.7,882.5L1919.8,886.8L1919.9,891.0L1920.0,895.1L1920.1,899.2L1920.2,903.2L1920.3,907.3L1920.4,911.7L1920.4,915.9L1920.6,920.0L1920.7,924.3L1920.9,928.6L1921.2,932.6L1921.8,936.9L1922.6,940.9L1923.8,945.4L1924.6,947.0L1925.5,948.6L1926.8,948.8L1928.5,948.8L1930.2,948.7L1932.1,948.2L1933.9,947.6L1935.1,946.4L1936.5,942.3L1937.4,938.3L1937.7,934.3L1938.3,930.6L1940.1,930.6L1941.5,928.9L1942.4,927.5L1943.7,923.0L1944.3,918.9L1944.7,914.5L1945.0,910.0L1945.3,906.0L1945.6,902.0L1945.8,897.9L1945.9,893.8L1946.1,889.7L1946.3,885.6L1946.5,881.3L1946.7,877.1L1946.9,872.7L1947.2,868.4L1947.4,864.4L1947.7,860.0L1948.0,855.9L1948.3,851.6L1948.6,847.2L1948.8,843.2L1949.0,840.9"/>
<path stroke="#EE0000" d="M193.5,1096.1L193.6,1100.5L193.8,1104.9L194.0,1109.1L194.2,1113.4L194.4,1117.4L194.6,1121.5L194.9,1125.9L195.1,1130.0L195.4,1134.3L195.6,1138.3L195.8,1142.6L196.1,1147.0L196.3,1151.3L196.6,1155.5L197.0,1159.9L197.3,1163.9L197.7,1168.3L198.1,1172.5L198.6,1176.8L199.2,1181.0L200.1,1185.3L201.2,1189.2L202.1,1192.0L202.9,1193.2L203.8,1194.8L205.1,1196.1L207.0,1196.3L209.0,1197.8L210.9,1198.3L212.9,1199.8L214.9,1199.1L216.9,1199.5L218.6,1199.0L220.6,1199.1L222.2,1197.5L223.1,1196.0L223.9,1194.9L224.6,1193.4L225.5,1191.7L226.3,1190.2L227.5,1187.9L228.9,1186.2L230.5,1184.8L232.3,1183.3L234.3,1184.9L236.5,1184.0L238.2,1185.6L239.9,1185.2L241.6,1186.0L242.7,1184.2L243.7,1181.5L245.1,1177.8L246.1,1174.1L246.8,1169.8L247.3,1165.6L247.7,1161.3L248.1,1156.9L248.5,1152.7L248.9,1148.6L249.3,1144.5L249.8,1140.2L250.2,1136.0L250.6,1131.9L251.1,1127.9L252.2,1123.6L253.4,1122.1L255.3,1121.6L257.1,1121.8L258.5,1122.3L259.8,1117.8L260.7,1113.8L261.4,1109.8L261.9,1105.8L262.4,1101.8L262.8,1097.4L263.2,1093.1L264.0,1089.0L265.4,1085.1L266.6,1083.8L267.7,1085.7L269.0,1090.2L270.0,1094.4L270.7,1098.3L271.5,1102.3L272.9,1102.7L274.9,1103.2L276.6,1103.7L278.2,1103.8L279.3,1107.7L279.8,1111.9L280.0,1116.2L280.3,1120.3L280.6,1124.6L280.8,1128.6L281.2,1133.1L281.4,1137.1L281.7,1141.2L282.1,1145.2L282.5,1149.3L283.1,1153.4L284.3,1157.2L285.2,1158.8L286.6,1160.0L287.7,1157.2L288.9,1153.3L289.6,1148.9L290.0,1144.6L290.2,1140.6L290.4,1136.5L290.5,1132.3L290.7,1128.2L290.9,1123.9L291.0,1119.8L291.1,1115.6L291.3,1111.4L291.4,1107.2L291.5,1102.9L291.6,1098.9L291.7,1094.7L291.8,1090.4L291.9,1086.0L292.0,1081.9L292.1,1077.8L292.2,1073.5L292.3,1069.2L292.4,1064.8L292.5,1060.8L292.6,1056.5L292.7,1052.5L292.7,1048.5L292.8,1044.3L292.9,1040.2L293.0,1035.9L293.0,1031.6L293.1,1027.3L293.2,1023.2L293.3,1019.1L293.3,1014.9L293.4,1010.6L293.5,1006.3L293.6,1001.8L293.7,997.7L293.8,993.4L293.9,989.3L294.0,985.2L294.2,980.9L294.3,976.6L294.4,972.2L294.5,968.2L294.6,964.1L294.7,960.0L294.9,955.9L295.0,951.8L295.1,947.6L295.3,943.5L295.4,939.3L295.5,935.2L295.7,931.1L295.8,927.0L295.9,922.9L296.1,918.9L296.2,914.9L296.4,910.8L296.5,906.7L296.7,902.6L296.9,898.4L297.1,894.3L297.2,890.1L297.4,885.9L297.6,881.8L297.8,877.6L298.0,873.5L298.1,869.4L298.3,865.4L298.5,861.0L298.7,856.7L298.9,852.4L299.1,848.3L299.2,844.2L299.4,840.0L299.6,835.5L299.8,831.4L300.0,827.4L300.1,823.0L300.3,818.7L300.5,814.5L300.7,810.4L300.8,806.4L301.0,802.1L301.2,797.9L301.4,793.7L301.6,789.7L301.8,785.4L302.0,781.2L302.2,777.0L302.5,772.6L302.7,768.5L303.0,764.3L303.3,760.3L303.7,756.0L304.0,751.9L304.2,747.6L304.5,743.5L304.7,739.5L304.9,735.1L305.1,730.8L305.3,726.6L305.4,722.3L305.6,717.9L305.7,713.9L305.8,709.7L306.0,705.6L306.1,701.4L306.2,697.2L306.4,693.0L306.5,688.8L306.7,684.6L306.9,680.5L307.1,676.5L307.3,672.3L307.5,668.1L307.7,663.7L308.0,659.3L308.2,655.3L308.4,650.9L308.7,646.5L308.9,642.2L309.2,638.0L309.4,634.0L309.7,629.8L309.9,625.5L310.2,621.3L310.5,617.2L310.8,612.8L311.1,608.8L311.5,604.6L311.9,600.5L312.4,596.4L312.9,592.1L313.4,588.0L314.1,584.0L315.2,579.8L316.4,577.4L318.1,576.3L319.9,578.4L321.7,576.5L323.6,578.5L325.3,578.6L326.7,579.3L327.5,581.4L328.6,585.3L329.5,589.6L330.5,593.8L331.7,597.9L332.9,602.1L333.7,603.3L334.7,604.5L336.2,604.6L337.4,604.8L338.4,602.8L339.1,601.3L340.5,597.2L341.7,593.0L342.9,589.3L344.0,584.9L344.8,580.8L345.5,576.8L346.2,572.7L346.9,568.3L347.6,564.1L348.3,560.0L349.0,555.9L349.7,551.7L350.5,547.6L351.2,543.6L352.0,539.5L352.7,535.5L353.5,531.4L354.3,527.2L355.3,523.3L356.2,521.2L357.1,518.6L358.2,518.1L359.9,517.3L361.2,517.8L362.2,520.1L363.1,522.1L364.6,526.4L365.5,527.9L366.3,529.6L367.4,531.8L368.9,533.0L370.6,533.7L372.4,532.5L374.0,533.3L375.7,532.7L377.1,534.9L378.3,536.4L379.2,537.9L380.4,541.7L381.4,545.7L382.2,550.0L382.9,554.3L383.5,558.4L384.0,562.5L384.5,566.5L385.0,570.6L385.5,575.1L386.0,579.1L386.6,583.4L387.2,587.3L387.7,591.4L388.3,595.7L388.9,599.9L389.4,603.9L389.9,608.2L390.4,612.5L390.9,616.7L391.4,620.8L391.9,624.9L392.4,629.3L392.8,633.4L393.2,637.5L393.7,641.8L394.1,646.2L394.6,650.2L395.0,654.4L395.4,658.5L395.8,662.7L396.2,666.9L396.6,671.1L397.1,675.3L397.5,679.4L397.9,683.6L398.3,687.9L398.6,692.0L399.0,696.4L399.3,700.4L399.6,704.7L400.0,709.1L400.3,713.2L400.6,717.4L400.8,721.8L401.1,726.0L401.4,729.9L401.6,734.1L401.9,738.4L402.1,742.8L402.3,746.8L402.6,750.8L402.8,754.9L403.0,759.1L403.3,763.2L403.5,767.3L403.7,771.4L404.0,775.4L404.2,779.9L404.4,784.2L404.7,788.4L404.9,792.4L405.1,796.7L405.3,800.7L405.6,804.9L405.8,808.9L406.1,813.0L406.3,817.4L406.6,821.9L406.8,826.1L407.1,830.1L407.4,834.1L407.8,838.6L408.1,842.6L408.4,846.7L408.8,850.7L409.1,855.1L409.5,859.2L409.8,863.4L410.2,867.7L410.6,872.1L410.9,876.5L411.3,880.8L411.7,885.1L412.0,889.3L412.3,893.3L412.7,897.6L413.0,901.8L413.4,905.7L413.7,909.8L414.0,914.2L414.4,918.6L414.7,922.8L415.1,927.0L415.4,931.1L415.7,935.4L416.0,939.5L416.4,943.6L416.7,947.6L417.1,952.1L417.4,956.3L417.6,960.7L417.9,964.8L418.3,968.8L419.4,967.3L419.9,963.1L420.3,958.6L420.7,954.5L421.1,950.2L421.5,946.1L421.9,941.9L422.3,937.6L422.7,933.5L423.1,929.1L423.4,925.0L423.8,920.7L424.2,916.4L424.6,912.0L424.9,908.0L425.2,904.0L425.6,899.6L425.9,895.3L426.3,891.1L426.6,886.7L426.9,882.7L427.2,878.5L427.5,874.4L427.7,870.2L428.0,866.0L428.3,861.9L428.6,857.7L428.9,853.7L429.2,849.6L429.5,845.3L429.9,841.1L430.2,837.1L430.6,832.8L431.0,828.7L431.3,824.6L431.8,820.2L432.2,815.9L432.6,811.7L433.0,807.5L433.4,803.2L433.8,798.9L434.2,794.6L434.5,790.5L434.8,786.2L435.1,781.9L435.4,777.6L435.7,773.3L436.0,769.0L436.2,764.6L436.5,760.3L436.7,756.3L436.9,752.2L437.2,748.1L437.4,743.9L437.6,739.7L437.9,735.7L438.1,731.5L438.3,727.4L438.5,723.3L438.7,719.1L438.9,714.9L439.2,710.7L439.4,706.4L439.6,702.4L439.8,698.3L440.0,694.1L440.3,689.8L440.5,685.4L440.7,681.4L441.0,677.1L441.2,672.7L441.5,668.6L441.7,664.3L442.0,660.2L442.2,656.2L442.5,652.0L442.7,647.8L443.0,643.6L443.2,639.3L443.5,635.1L443.8,630.9L444.0,626.6L444.3,622.5L444.6,618.4L444.8,614.3L445.1,610.0L445.4,605.8L445.7,601.7L446.0,597.5L446.3,593.3L446.6,589.2L446.9,585.1L447.2,581.1L447.5,576.8L447.9,572.5L448.2,568.3L448.6,564.2L448.9,559.9L449.3,555.7L449.6,551.7L450.0,547.5L450.3,543.1L450.7,538.8L451.0,534.4L451.3,530.0L451.6,525.7L451.9,521.5L452.2,517.4L452.6,513.1L453.1,508.8L453.6,504.8L454.1,500.6L454.7,496.7L455.4,492.4L456.4,488.3L457.6,488.3L458.8,492.1L459.7,496.3L460.4,500.6L461.1,504.6L461.6,508.7L462.1,512.8L462.6,516.8L463.0,521.1L463.5,525.4L464.0,529.4L464.5,533.8L465.1,537.9L465.7,542.0L466.3,546.0L466.9,550.2L467.6,554.2L468.3,558.2L469.0,562.5L469.6,566.4L470.3,570.5L471.0,574.6L471.6,578.8L472.3,583.2L472.9,587.5L473.5,591.6L474.0,595.6L474.5,599.9L475.0,604.3L475.5,608.4L476.0,612.7L476.4,616.7L476.8,620.7L477.2,624.8L477.6,629.0L478.0,633.2L478.4,637.4L478.8,641.7L479.2,645.9L479.6,650.1L480.0,654.2L480.3,658.3L480.7,662.4L481.1,666.7L481.5,670.8L481.8,674.9L482.2,679.1L482.6,683.1L483.0,687.4L483.4,691.6L483.8,695.6L484.2,699.9L484.6,704.0L484.9,708.1L485.3,712.2L485.7,716.3L486.0,720.5L486.3,724.7L486.6,729.1L486.8,733.2L487.1,737.5L487.3,741.7L487.5,746.0L487.6,750.1L487.7,754.3L487.8,758.6L487.9,762.9L488.0,767.3L488.1,771.7L488.2,776.0L488.3,780.3L488.4,784.6L488.5,788.7L488.5,792.8L488.6,797.0L488.8,801.0L488.9,805.2L489.1,809.2L489.3,813.7L489.5,818.1L489.9,822.4L490.2,826.7L490.7,830.9L491.1,835.0L491.6,839.0L492.0,843.2L492.4,847.4L492.8,851.9L493.2,856.1L493.9,860.2L494.9,856.0L495.4,851.8L495.9,847.4L496.4,843.2L496.9,839.1L497.3,835.0L497.7,830.9L498.2,826.5L498.6,822.3L499.1,818.3L499.5,814.0L500.0,809.5L500.4,805.4L500.8,801.3L501.3,797.0L501.7,792.9L502.1,788.7L502.5,784.5L503.0,780.2L503.4,775.9L503.8,771.7L504.3,767.6L504.7,763.3L505.1,759.1L505.5,755.0L506.0,751.0L506.4,746.6L506.8,742.4L507.2,738.2L507.6,734.2L508.1,730.0L508.5,725.9L508.9,721.5L509.3,717.3L509.7,713.0L510.0,708.8L510.4,704.5L510.7,700.4L511.1,696.3L511.5,692.1L512.2,688.2L513.1,683.8L514.3,679.9L515.1,677.6L516.4,676.0L517.7,678.8L518.5,680.6L519.4,682.8L520.1,684.2L520.8,686.2L521.5,687.2L522.9,691.3L524.2,695.6L525.2,699.5L526.1,703.7L527.1,708.0L528.2,712.0L529.3,715.8L530.6,719.9L532.0,723.8L532.7,725.9L533.5,727.3L534.3,728.6L535.4,731.1L536.5,732.4L537.7,734.5L539.0,735.9L540.2,737.1L541.7,737.3L543.3,739.2L545.2,738.2L547.0,737.2L548.2,736.0L549.7,735.6L551.0,733.9L552.3,731.3L553.2,729.9L554.1,728.1L555.6,724.4L556.3,722.8L557.1,721.1L558.1,719.3L559.5,718.2L561.4,719.2L562.2,720.3L563.7,724.3L565.0,728.0L566.2,731.7L567.5,735.8L568.4,738.0L569.1,739.4L569.8,741.1L571.4,745.5L572.8,749.4L574.0,753.5L575.0,757.8L575.9,761.8L576.6,765.9L577.3,770.0L578.0,774.1L578.7,778.3L579.3,782.6L579.9,786.6L580.5,790.7L581.0,794.8L581.6,799.0L582.2,803.3L582.7,807.3L583.3,811.4L583.8,815.4L584.3,819.8L584.8,824.0L585.1,828.2L585.4,832.3L585.6,836.4L585.9,840.6L586.3,845.0L586.7,849.5L587.3,853.8L588.0,856.2L588.9,857.8L590.6,859.4L592.6,859.9L594.6,860.9L596.3,859.5L598.4,860.8L599.9,861.3L600.9,862.9L601.6,864.3L603.0,868.2L604.0,872.0L604.7,876.4L605.3,880.3L605.9,884.5L606.5,888.7L607.1,893.1L607.8,897.3L608.6,901.6L609.3,905.8L610.1,910.2L611.0,914.3L611.9,917.2L613.1,917.3L614.5,913.9L615.3,909.9L616.1,905.5L616.7,901.4L617.4,897.0L618.0,892.9L618.5,888.9L619.0,884.9L619.5,880.7L619.9,876.4L620.4,872.1L620.8,867.9L621.3,863.8L621.8,859.6L622.3,855.3L622.8,851.2L623.4,847.2L624.0,842.9L624.6,838.9L625.2,834.9L626.0,830.9L626.9,826.8L628.0,822.8L628.8,820.9L630.1,819.6L631.1,822.1L632.4,825.7L633.4,829.9L634.4,834.4L635.3,838.4L636.1,842.3L636.9,846.6L637.5,850.8L638.2,854.7L638.9,859.0L639.6,863.1L640.3,867.3L641.0,871.4L642.2,875.6L643.0,878.2L644.4,879.4L646.3,878.9L648.1,879.3L649.9,879.4L651.7,879.5L653.0,882.1L653.9,883.5L654.6,885.1L655.8,889.2L656.4,893.4L656.9,897.5L657.3,901.6L657.8,905.8L658.3,910.0L658.7,914.3L659.1,918.5L659.6,922.8L660.0,927.3L660.3,931.5L660.7,935.8L661.0,939.9L661.4,944.2L661.7,948.2L662.0,952.3L662.3,956.5L662.6,960.7L662.9,965.0L663.2,969.2L663.5,973.5L663.8,977.6L664.2,981.7L664.5,985.8L664.8,989.8L665.1,993.8L665.4,997.8L665.7,1001.8L666.0,1005.8L666.3,1009.8L666.6,1013.8L666.9,1017.7L667.2,1021.7L667.5,1025.7L667.8,1029.7L668.1,1033.7L668.4,1037.7L668.6,1041.7L668.9,1045.8L669.2,1050.0L669.4,1054.2L669.7,1058.5L670.0,1062.8L670.2,1067.2L670.5,1071.4L670.7,1075.6L671.0,1079.7L671.2,1084.1L671.5,1088.2L671.7,1092.5L671.9,1096.7L672.2,1101.0L672.4,1105.4L672.7,1109.5L672.9,1113.7L673.1,1117.7L673.4,1122.0L673.6,1126.1L673.9,1130.3L674.2,1134.3L674.5,1138.5L674.8,1142.7L675.1,1146.9L675.4,1151.0L675.7,1155.3L675.9,1159.4L676.1,1163.5L676.2,1167.6L676.2,1171.9L676.3,1176.0L676.3,1180.2L676.4,1184.3L676.7,1188.6L677.0,1193.0L677.6,1197.2L678.4,1200.0L680.1,1200.3L681.1,1198.1L682.5,1194.2L682.9,1190.0L683.0,1185.8L683.0,1181.4L683.0,1177.0L683.0,1173.0L683.0,1168.6L683.0,1164.2L683.1,1160.0L683.5,1158.8L684.7,1162.7L685.8,1166.6L686.9,1171.1L687.9,1174.6L689.1,1171.8L689.3,1167.4L689.4,1163.3L689.5,1158.9L689.7,1154.7L689.8,1150.6L689.8,1146.6L689.9,1142.1L690.0,1137.7L690.0,1133.5L690.1,1129.5L690.2,1125.2L690.2,1121.1L690.3,1116.8L690.4,1112.5L690.5,1108.2L690.6,1103.9L690.7,1099.7L690.8,1095.7L691.0,1091.7L691.2,1087.7L691.4,1083.7L691.6,1079.7L691.8,1075.7L692.0,1071.7L692.3,1067.7L692.5,1063.7L692.7,1059.7L692.9,1055.7L693.1,1051.7L693.3,1047.7L693.5,1043.7L693.6,1039.7L693.8,1035.7L694.0,1031.7L694.2,1027.7L694.5,1023.7L694.7,1019.7L694.9,1015.7L695.2,1011.7L695.4,1007.7L695.7,1003.7L695.9,999.7L696.2,995.7L696.5,991.6L696.8,987.7L697.0,983.7L697.3,979.6L697.5,975.6L697.7,971.5L697.9,967.3L698.1,963.2L698.3,959.0L698.6,954.8L698.8,950.7L699.1,946.6L699.4,942.6L699.8,938.5L700.1,934.3L700.4,930.3L700.8,926.0L701.1,921.7L701.5,917.7L701.8,913.5L702.2,909.2L702.5,905.2L702.9,901.1L703.2,897.0L703.6,892.8L703.9,888.6L704.3,884.4L704.7,880.2L705.0,875.9L705.4,871.7L705.7,867.6L706.1,863.5L706.4,859.5L706.8,855.2L707.2,851.0L707.6,847.0L707.9,842.8L708.3,838.5L708.7,834.5L709.1,830.2L709.5,826.0L709.9,821.4L710.4,816.9L710.9,812.6L711.6,808.7L712.4,804.5L713.1,800.4L713.7,796.1L714.3,791.7L714.8,787.6L715.5,783.5L716.2,778.9L717.1,774.8L718.3,770.7L719.2,768.5L720.6,766.7L722.1,766.7L723.6,769.9L723.9,774.3L724.1,778.4L724.3,782.4L724.5,786.5L724.7,790.8L724.9,795.1L725.0,799.5L725.2,803.9L725.4,808.1L725.6,812.5L725.8,816.6L725.9,820.7L726.1,825.0L726.2,829.2L726.3,833.3L726.6,837.4L726.9,838.9L727.3,834.7L727.6,830.4L727.8,826.4L728.0,822.1L728.2,817.8L728.4,813.7L728.6,809.6L728.7,805.6L728.8,801.3L729.0,797.0L729.1,792.6L729.2,788.4L729.4,784.3L729.5,780.2L729.6,775.9L729.8,771.6L729.9,767.6L730.1,763.3L730.3,758.9L730.5,754.6L730.8,750.5L731.0,746.3L731.3,742.2L731.6,737.9L731.8,733.7L732.1,729.4L732.4,725.3L732.6,721.2L732.9,716.9L733.2,712.7L733.5,708.6L733.9,704.6L734.2,700.6L734.6,696.6L735.0,692.6L735.4,688.5L735.8,684.5L736.2,680.5L736.5,676.5L736.8,672.3L737.1,668.1L737.3,663.9L737.6,659.7L737.8,655.7L738.1,651.6L738.4,647.3L738.8,643.1L739.1,639.0L739.6,634.8L740.0,630.8L740.6,626.7L741.3,622.4L742.0,618.3L742.9,614.3L744.2,610.5L744.8,608.5L745.7,606.8L746.5,605.7L747.6,604.4L748.9,602.3L750.7,600.9L752.6,601.6L754.2,604.0L755.9,604.9L757.8,603.5L759.2,603.9L760.2,601.7L761.6,597.9L762.6,593.9L763.3,589.9L763.9,585.6L764.6,581.2L765.7,577.2L766.9,572.7L768.0,569.7L768.9,567.2L770.3,565.8L771.6,568.2L772.4,569.3L773.8,573.9L774.6,577.9L775.1,582.1L775.6,586.3L776.0,590.3L776.4,594.7L776.9,598.8L777.4,602.9L777.9,607.0L778.3,611.1L778.8,615.2L779.3,619.1L780.0,623.4L780.6,627.5L781.3,631.7L782.0,635.7L782.8,640.0L783.7,644.1L784.8,648.3L786.1,652.2L787.5,655.8L788.9,660.0L790.3,664.5L791.6,668.1L793.0,672.0L794.1,676.0L795.1,679.9L796.0,684.1L796.8,688.3L797.6,692.5L798.4,696.7L799.3,700.8L800.3,704.8L801.5,708.6L802.3,710.4L803.3,712.6L805.0,710.8L806.1,709.7L807.6,706.1L808.4,702.1L809.1,697.7L809.7,693.7L810.4,689.5L811.0,685.5L811.6,681.5L812.2,677.4L812.8,673.2L813.3,669.2L813.9,664.8L814.5,660.7L815.0,656.5L815.6,652.2L816.1,648.1L816.7,644.0L817.2,639.9L817.7,635.7L818.3,631.6L818.8,627.4L819.3,623.4L819.9,619.1L820.5,615.1L821.2,611.0L821.8,607.1L822.5,602.8L823.3,598.7L824.2,594.5L825.2,590.3L826.4,586.1L827.1,584.5L827.8,583.3L828.7,581.7L829.7,580.2L830.8,577.9L832.0,577.0L833.6,575.1L835.4,575.3L837.1,576.0L838.5,576.6L839.9,578.9L841.6,579.5L843.0,578.1L844.5,577.3L845.9,574.8L847.7,574.9L849.1,576.1L850.2,578.4L851.1,579.9L851.9,581.7L853.1,585.5L854.0,589.8L854.7,593.7L855.3,598.1L855.8,602.1L856.3,606.3L856.9,610.3L857.4,614.4L857.9,618.7L858.3,622.8L858.8,627.2L859.2,631.3L859.6,635.3L859.9,639.6L860.3,643.6L860.6,647.8L860.9,652.0L861.3,656.2L861.6,660.3L861.9,664.3L862.3,668.3L862.7,672.5L863.0,676.6L863.4,680.6L863.8,684.6L864.2,688.9L864.6,693.2L865.0,697.5L865.4,701.7L865.8,705.9L866.3,710.1L866.7,714.3L867.1,718.4L867.5,722.7L867.9,726.7L868.4,731.0L868.7,735.2L869.1,739.4L869.5,743.6L870.1,747.8L870.8,751.9L871.7,754.8L872.6,756.7L873.9,757.6L875.4,758.5L877.0,761.7L878.2,762.4L879.5,763.7L880.8,764.4L882.1,766.1L883.0,768.0L883.9,769.4L885.4,773.4L886.6,777.6L887.5,781.5L888.2,785.5L888.8,789.5L889.4,793.8L889.8,797.9L890.3,802.3L890.8,806.4L891.2,810.5L891.6,814.5L892.1,818.6L892.5,822.9L892.9,827.0L893.3,831.4L893.7,835.5L894.1,839.8L894.5,844.0L894.9,848.1L895.2,852.3L895.6,856.6L896.0,861.0L896.4,865.3L896.8,869.5L897.2,873.8L897.6,877.8L898.0,882.3L898.4,886.3L898.7,890.5L899.1,894.8L899.5,899.0L900.0,903.0L900.6,907.4L901.3,911.5L902.2,914.7L903.2,914.5L904.3,910.8L905.0,906.5L905.6,902.3L906.1,898.2L906.6,893.8L907.1,889.8L907.8,885.4L908.3,881.3L908.9,877.2L909.5,873.0L910.1,869.0L910.8,865.0L911.6,861.1L912.9,856.7L913.8,855.8L915.3,854.9L917.1,855.3L918.9,853.7L920.7,855.0L922.6,854.6L923.9,851.0L924.6,847.1L925.2,842.9L926.0,839.0L926.8,835.0L927.6,831.0L928.2,827.0L928.7,823.0L929.2,818.7L929.8,814.3L930.3,810.4L931.0,805.9L931.6,802.0L932.4,798.0L933.7,793.9L934.6,791.6L935.7,790.7L937.1,788.6L938.7,789.0L940.5,789.5L941.9,789.8L943.1,791.6L943.9,793.5L945.1,797.9L946.1,802.0L947.0,806.2L947.8,810.3L948.5,814.2L949.2,818.6L949.8,822.7L950.3,826.6L950.9,830.7L951.1,831.2L950.6,827.0L950.1,823.0L949.5,819.2L949.9,823.2L950.4,827.4L950.9,831.6L951.3,836.1L951.8,840.0L952.2,844.4L952.7,848.5L953.1,852.8L953.5,857.1L953.9,861.5L954.3,865.5L954.7,869.5L955.2,873.7L955.6,877.8L956.1,882.1L956.6,886.1L957.1,890.2L957.6,894.4L958.1,898.5L958.5,902.5L959.0,906.5L959.5,910.8L959.9,915.0L960.4,919.2L960.8,923.2L961.1,927.2L961.6,931.5L962.0,935.8L962.4,940.1L962.8,944.3L963.3,948.5L963.7,952.7L964.1,956.9L964.6,960.8L965.0,965.0L965.6,969.2L966.1,973.2L966.6,977.4L967.3,981.6L967.9,985.6L968.8,989.9L969.9,993.9L971.1,997.9L972.5,1001.8L973.2,1003.5L973.9,1005.5L974.7,1007.6L975.5,1009.2L976.3,1010.8L977.8,1014.9L979.1,1018.8L980.4,1022.9L981.5,1026.9L982.7,1031.0L983.7,1034.8L984.6,1038.8L985.6,1042.8L986.6,1046.8L987.5,1050.7L988.4,1054.6L989.4,1058.5L990.4,1061.6L991.5,1063.1L993.0,1065.4L994.2,1066.6L995.1,1068.0L996.3,1070.4L997.6,1067.4L998.8,1063.8L999.6,1059.7L1000.3,1055.3L1001.1,1051.1L1002.0,1047.3L1003.0,1042.9L1003.7,1039.0L1004.3,1035.0L1004.8,1030.7L1005.3,1026.7L1005.8,1022.3L1006.2,1018.4L1006.7,1014.4L1007.2,1010.1L1007.6,1006.1L1008.2,1001.7L1008.8,997.3L1009.5,993.2L1010.1,989.2L1010.8,985.0L1011.4,981.0L1012.1,976.8L1012.7,972.6L1013.3,968.7L1013.9,964.4L1014.6,960.3L1015.2,955.9L1015.8,951.8L1016.4,947.6L1017.0,943.6L1017.6,939.4L1018.4,935.3L1019.3,930.9L1020.3,927.0L1021.1,924.6L1022.1,922.5L1023.2,921.8L1024.8,920.8L1026.2,921.2L1027.1,922.8L1028.6,927.0L1029.5,931.2L1030.1,935.5L1030.7,939.6L1031.2,943.8L1031.6,947.8L1032.0,952.1L1032.4,956.3L1032.8,960.3L1033.1,964.7L1033.5,969.0L1033.8,973.0L1034.2,977.0L1034.8,981.3L1035.6,985.7L1036.3,987.6L1037.4,988.9L1039.1,989.7L1040.9,990.5L1042.4,990.5L1043.5,992.4L1044.5,993.9L1045.7,998.2L1046.4,1002.5L1046.9,1006.5L1047.4,1010.7L1047.8,1014.7L1048.1,1018.9L1048.6,1023.3L1049.1,1027.5L1049.6,1031.7L1050.1,1035.7L1050.6,1040.0L1051.1,1044.3L1051.5,1048.6L1051.9,1052.8L1052.2,1056.9L1052.4,1061.1L1052.7,1065.5L1052.9,1069.6L1053.2,1073.8L1053.4,1077.9L1053.7,1082.2L1054.0,1086.4L1054.3,1090.5L1054.6,1094.6L1054.9,1098.9L1055.3,1103.1L1055.6,1107.3L1055.9,1111.4L1056.2,1115.6L1056.6,1119.8L1057.0,1123.9L1057.4,1128.2L1057.8,1132.4L1058.2,1136.4L1058.6,1140.7L1059.0,1144.7L1059.5,1149.1L1060.0,1153.2L1060.5,1157.5L1061.1,1161.5L1061.7,1165.7L1062.3,1169.7L1063.2,1174.1L1064.1,1178.4L1065.2,1182.5L1066.6,1186.7L1067.3,1188.6L1068.0,1190.4L1069.0,1192.5L1070.0,1193.4L1071.1,1195.2L1072.5,1196.3L1074.2,1197.8L1076.4,1196.5L1078.3,1196.8L1080.1,1196.8L1081.9,1199.1L1083.8,1197.3L1085.9,1198.0L1087.6,1197.0L1089.4,1197.6L1091.2,1196.8L1093.0,1198.2L1094.7,1197.1L1096.5,1198.4L1098.5,1197.5L1100.6,1197.5L1102.3,1198.2L1104.1,1198.0L1105.8,1197.8L1107.6,1197.3L1109.3,1197.4L1111.4,1199.7L1113.4,1198.2L1115.3,1197.6L1117.0,1197.9L1119.0,1198.6L1120.9,1199.8L1122.6,1197.3L1124.6,1198.6L1126.4,1197.3L1128.2,1197.1L1130.0,1198.2L1132.0,1197.2L1134.1,1196.5L1135.9,1198.0L1137.6,1198.4L1139.3,1198.5L1141.4,1197.8L1143.3,1199.7L1145.1,1199.6L1146.9,1200.0L1148.7,1198.6L1150.7,1199.8L1152.7,1199.5L1154.5,1197.9L1156.5,1197.3L1158.3,1197.3L1160.2,1196.5L1162.0,1195.7L1163.9,1195.6L1165.5,1195.9L1167.1,1194.1L1169.0,1193.8L1170.9,1191.8L1172.4,1191.7L1174.4,1193.0L1176.4,1190.5L1178.2,1192.4L1179.7,1193.8L1181.2,1194.7L1183.0,1195.5L1184.5,1195.6L1186.2,1197.6L1187.8,1198.4L1189.6,1198.6L1191.5,1199.4L1193.5,1197.0L1195.3,1199.3L1197.2,1197.9L1199.0,1198.8L1200.9,1197.6L1202.9,1199.5L1205.0,1197.2L1206.7,1198.7L1208.6,1197.8L1210.6,1198.2L1212.6,1198.1L1214.3,1198.8L1216.0,1199.2L1217.8,1197.9L1219.5,1198.6L1221.6,1197.7L1223.5,1197.3L1225.4,1198.7L1227.4,1196.9L1229.1,1196.1L1231.1,1196.3L1232.9,1196.8L1234.5,1194.7L1236.0,1194.5L1237.1,1192.5L1238.1,1190.7L1239.0,1188.4L1240.0,1186.4L1240.8,1185.0L1241.6,1183.6L1242.4,1182.0L1243.4,1179.7L1244.7,1179.0L1246.2,1177.9L1247.8,1177.1L1249.9,1177.4L1251.9,1178.6L1253.9,1177.1L1255.5,1179.5L1256.9,1179.1L1258.3,1181.2L1259.8,1181.6L1260.9,1184.3L1261.9,1184.8L1263.0,1187.1L1263.9,1188.3L1264.5,1190.0L1265.5,1192.2L1266.8,1192.8L1268.3,1194.1L1270.0,1196.0L1271.9,1197.5L1273.6,1196.4L1275.3,1196.6L1277.0,1197.6L1279.0,1199.6L1281.1,1197.5L1283.4,1198.8L1285.3,1198.2L1287.1,1198.9L1288.9,1197.7L1290.7,1198.8L1292.5,1199.5L1294.3,1199.4L1296.2,1198.7L1298.0,1198.3L1300.0,1198.4L1301.8,1197.2L1303.7,1199.1L1305.5,1198.6L1307.4,1197.9L1309.5,1198.5L1311.2,1197.8L1313.1,1197.6L1315.1,1197.2L1317.2,1198.1L1319.5,1198.0L1321.2,1197.9L1323.1,1196.5L1325.0,1198.1L1327.1,1197.6L1329.2,1198.0L1331.4,1198.0L1333.7,1198.9L1336.1,1196.8L1338.6,1197.6L1340.5,1199.0L1342.4,1198.3L1344.2,1197.2L1346.0,1198.3L1347.8,1199.0L1349.8,1197.4L1351.8,1198.6L1353.5,1196.6L1355.2,1199.0L1357.0,1197.6L1358.8,1196.9L1360.7,1198.5L1362.5,1198.0L1364.5,1198.8L1366.4,1198.5L1368.4,1198.4L1370.4,1197.7L1372.5,1199.0L1374.5,1196.4L1376.7,1198.6L1378.8,1198.2L1380.5,1196.9L1382.2,1198.4L1384.0,1197.5L1385.7,1197.7L1387.5,1198.6L1389.3,1196.8L1391.1,1197.0L1392.9,1198.0L1394.7,1196.5L1396.6,1197.8L1398.4,1198.4L1400.2,1197.6L1402.1,1196.9L1404.0,1198.4L1405.8,1198.6L1407.7,1198.3L1409.6,1197.8L1411.5,1198.7L1413.4,1198.4L1415.3,1196.7L1417.2,1197.3L1419.1,1196.5L1421.0,1196.4L1422.9,1197.2L1424.8,1198.6L1426.7,1198.5L1428.6,1196.6L1430.5,1196.8L1432.4,1197.3L1434.3,1198.6L1436.2,1197.9L1438.1,1198.7L1440.0,1196.5L1441.9,1198.9L1443.8,1196.8L1445.6,1198.0L1447.5,1198.7L1449.4,1198.3L1451.2,1196.8L1453.0,1198.1L1454.9,1197.5L1456.7,1196.3L1458.5,1197.2L1460.3,1197.1L1462.1,1198.0L1463.9,1197.0L1465.7,1197.9L1467.4,1198.2L1469.2,1196.8L1470.9,1196.6L1472.6,1198.2L1474.7,1197.6L1476.8,1196.7L1478.9,1196.6L1480.9,1198.9L1482.9,1198.0L1484.9,1197.3L1486.8,1196.8L1488.7,1199.0L1490.6,1198.2L1492.4,1198.3L1494.2,1197.3L1496.0,1197.2L1497.7,1197.4L1499.7,1196.7L1501.7,1198.0L1503.6,1197.5L1505.4,1198.5L1507.2,1197.4L1509.2,1197.6L1511.0,1197.7L1512.8,1198.9L1515.0,1197.3L1517.4,1198.2L1519.7,1197.0L1521.8,1197.9L1523.8,1197.1L1525.6,1198.7L1527.3,1197.2L1529.7,1198.7L1531.8,1198.3L1533.6,1197.7L1535.8,1199.1L1537.5,1197.7L1539.3,1198.7L1541.1,1198.4L1542.8,1198.0L1544.6,1196.8L1546.5,1197.5L1548.7,1196.5L1550.1,1195.6L1550.3,1191.6L1551.2,1189.7L1552.1,1188.8L1553.3,1187.4L1554.6,1185.4L1556.2,1184.8L1558.1,1184.0L1559.9,1186.8L1561.1,1187.1L1562.0,1189.1L1562.7,1190.7L1563.4,1192.7L1564.3,1194.5L1564.6,1197.0L1566.5,1197.6L1568.4,1196.7L1570.2,1198.9L1572.1,1196.8L1574.1,1197.6L1575.9,1197.6L1577.7,1198.6L1579.7,1198.4L1581.6,1197.5L1583.6,1199.0L1585.5,1199.1L1587.4,1196.6L1589.3,1198.2L1591.0,1197.7L1593.0,1197.4L1594.8,1197.6L1596.5,1197.2L1598.7,1198.1L1600.0,1197.1L1602.0,1198.1L1603.7,1198.2L1605.6,1198.3L1607.5,1196.8L1609.2,1197.9L1611.0,1197.2L1612.8,1196.7L1614.4,1196.0L1615.7,1192.8L1616.7,1191.8L1617.6,1190.2L1618.4,1188.5L1619.7,1184.4L1620.6,1180.5L1621.2,1176.2L1621.6,1172.2L1622.0,1168.2L1622.4,1164.2L1622.7,1160.1L1623.1,1155.9L1623.4,1151.7L1623.8,1147.3L1624.1,1142.9L1624.4,1138.6L1624.8,1134.4L1625.1,1130.4L1625.4,1126.4L1625.7,1122.4L1626.0,1118.3L1626.4,1114.3L1626.7,1110.3L1627.0,1106.3L1627.4,1102.3L1627.8,1098.3L1628.2,1094.1L1628.7,1089.8L1629.1,1085.8L1629.6,1081.8L1630.1,1077.4L1630.6,1073.3L1631.1,1069.0L1631.6,1065.0L1632.2,1060.3L1632.6,1055.9L1633.1,1051.7L1634.3,1054.9L1634.8,1058.9L1635.1,1063.0L1635.5,1067.3L1635.7,1071.3L1636.0,1075.4L1636.3,1079.6L1636.5,1084.0L1636.8,1088.0L1637.0,1092.4L1637.2,1096.7L1637.4,1100.7L1637.6,1104.7L1637.8,1108.7L1637.9,1112.7L1638.0,1116.7L1638.2,1120.8L1638.3,1124.8L1638.5,1128.8L1638.6,1132.8L1638.8,1136.9L1639.0,1141.1L1639.2,1145.4L1639.4,1149.7L1639.6,1154.0L1639.8,1158.2L1640.1,1162.5L1640.3,1166.8L1640.6,1170.9L1640.9,1175.0L1641.3,1179.3L1641.8,1183.6L1642.4,1187.8L1643.2,1191.8L1644.3,1196.0L1645.0,1197.0L1646.5,1197.3L1647.3,1195.4L1648.7,1191.2L1649.6,1187.3L1650.5,1183.4L1651.2,1178.9L1651.8,1174.8L1652.2,1170.8L1652.5,1166.7L1652.8,1162.7L1653.0,1158.4L1653.2,1154.3L1653.4,1150.1L1653.6,1145.8L1653.7,1141.5L1653.9,1137.3L1654.0,1133.2L1654.2,1129.2L1654.3,1125.2L1654.4,1121.2L1654.5,1117.1L1654.6,1113.1L1654.7,1109.1L1654.8,1105.1L1654.8,1101.1L1654.9,1096.7L1655.0,1092.5L1655.1,1088.4L1655.2,1084.4L1655.2,1080.3L1655.3,1076.0L1655.4,1071.9L1655.4,1067.5L1655.5,1063.2L1655.5,1059.2L1655.6,1054.9L1655.6,1050.8L1655.7,1046.5L1655.7,1042.0L1655.7,1038.0L1655.8,1033.9L1655.8,1029.9L1655.8,1025.6L1655.9,1021.4L1655.9,1017.1L1655.9,1012.9L1656.0,1008.5L1656.1,1003.9L1656.2,999.9L1656.2,995.5L1656.4,991.5L1656.8,987.8L1657.7,992.0L1658.2,996.3L1658.5,1000.3L1658.8,1004.5L1659.1,1008.8L1659.3,1013.2L1659.5,1017.3L1659.7,1021.4L1659.9,1025.4L1660.2,1029.6L1660.4,1033.7L1660.7,1037.9L1661.0,1042.0L1661.3,1046.5L1661.7,1050.7L1662.2,1054.3L1663.0,1050.6L1663.3,1046.2L1663.6,1041.8L1663.8,1037.6L1664.1,1033.2L1664.2,1029.0L1664.4,1024.7L1664.5,1020.5L1664.7,1016.3L1664.8,1012.1L1664.9,1007.7L1665.0,1003.5L1665.1,999.2L1665.2,995.2L1665.3,991.1L1665.4,986.8L1665.5,982.7L1665.7,978.3L1665.8,974.1L1665.9,969.7L1666.1,965.6L1666.2,961.6L1666.4,957.1L1666.6,952.7L1666.9,948.7L1667.4,944.6L1668.6,948.4L1669.3,953.0L1669.8,957.1L1670.3,961.3L1670.7,965.6L1671.0,970.1L1671.2,974.4L1671.5,978.4L1671.7,982.6L1671.8,986.8L1672.0,990.8L1672.2,995.0L1672.3,999.3L1672.5,1003.7L1672.7,1008.1L1672.9,1012.5L1673.1,1016.9L1673.2,1021.2L1673.4,1025.4L1673.6,1029.4L1673.8,1033.4L1674.0,1037.5L1674.2,1041.5L1674.4,1045.5L1674.6,1049.5L1674.9,1053.6L1675.1,1057.6L1675.3,1061.6L1675.5,1065.6L1675.7,1069.6L1675.9,1073.7L1676.1,1077.7L1676.3,1081.7L1676.4,1085.9L1676.6,1090.2L1676.8,1094.6L1676.9,1099.0L1677.1,1103.0L1677.2,1107.4L1677.4,1111.7L1677.5,1116.0L1677.7,1120.0L1677.8,1124.2L1678.0,1128.5L1678.2,1132.6L1678.5,1136.8L1678.8,1140.9L1679.1,1145.1L1679.7,1149.1L1680.5,1153.1L1681.4,1155.8L1682.3,1157.3L1683.5,1159.4L1685.1,1160.3L1686.9,1159.1L1688.6,1158.6L1689.7,1163.8L1689.9,1168.1L1689.9,1172.4L1690.1,1176.4L1690.4,1180.8L1690.8,1185.2L1691.4,1189.3L1692.7,1187.2L1693.4,1182.7L1693.9,1178.6L1694.5,1174.3L1695.0,1169.9L1695.5,1165.6L1696.0,1161.2L1696.5,1157.1L1696.9,1152.7L1697.2,1148.4L1697.5,1144.3L1697.8,1140.0L1698.1,1135.8L1698.6,1131.6L1699.0,1127.5L1699.5,1123.3L1700.2,1119.3L1700.7,1116.9L1701.7,1121.5L1702.2,1125.7L1702.6,1130.3L1702.9,1134.3L1703.3,1138.4L1703.6,1142.7L1703.9,1147.0L1704.1,1151.1L1704.4,1155.2L1704.7,1159.6L1705.0,1163.7L1705.3,1167.8L1705.6,1172.0L1705.8,1176.1L1706.0,1180.3L1706.3,1184.5L1707.1,1188.7L1708.0,1191.3L1709.0,1193.0L1710.1,1193.9L1711.7,1196.0L1713.7,1195.4L1715.4,1195.1L1717.0,1194.4L1718.8,1193.1L1720.2,1192.7L1721.6,1191.2L1723.3,1190.8L1725.0,1191.8L1726.3,1193.4L1727.6,1195.4L1729.3,1194.8L1731.2,1197.3L1733.5,1197.4L1736.0,1196.8L1737.8,1196.6L1739.7,1197.2L1741.4,1196.7L1743.3,1197.0L1745.3,1197.7L1747.4,1197.3L1749.2,1195.9L1751.0,1195.4L1752.9,1197.8L1754.8,1196.2L1756.7,1197.4L1758.6,1195.9L1760.5,1196.5L1762.4,1196.2L1764.2,1197.2L1766.1,1197.8L1767.9,1196.6L1769.6,1196.7L1771.8,1196.1L1773.8,1195.8L1775.6,1197.7L1777.3,1195.5L1779.2,1197.7L1781.6,1196.9L1783.8,1195.3L1785.6,1197.6L1787.6,1195.4L1789.5,1196.7L1791.4,1195.4L1793.1,1197.3L1794.6,1194.9L1794.6,1191.2L1794.7,1187.0L1795.1,1182.8L1795.9,1178.5L1796.5,1176.3L1797.1,1180.7L1797.5,1184.9L1798.3,1188.9L1799.0,1191.0L1799.9,1192.5L1801.1,1193.9L1802.4,1194.3L1804.1,1195.9L1806.6,1195.1L1808.3,1196.2L1810.2,1195.8L1812.3,1196.2L1814.1,1195.5L1816.0,1196.9L1818.0,1196.1L1819.9,1196.3L1821.8,1195.2L1823.6,1196.3L1825.7,1196.5L1827.5,1197.5L1829.3,1196.2L1831.1,1194.7L1831.9,1191.8L1832.3,1187.7L1832.6,1183.5L1833.2,1180.2L1834.2,1181.4L1835.2,1185.0L1835.9,1189.3L1836.6,1191.5L1837.4,1193.3L1838.7,1193.5L1840.5,1195.3L1842.3,1196.0L1844.2,1196.6L1846.0,1196.1L1847.5,1195.1L1848.9,1194.5L1850.1,1191.8L1851.3,1190.6L1852.1,1189.4L1853.1,1186.7L1854.2,1185.2L1855.7,1185.6L1857.6,1186.2L1859.2,1185.1L1860.8,1185.8L1862.5,1188.1L1863.5,1186.1L1864.5,1181.3L1864.7,1177.3L1864.9,1173.2L1864.9,1169.1L1865.0,1165.1L1865.0,1161.0L1865.1,1156.8L1865.1,1152.6L1865.2,1148.5L1865.2,1144.1L1865.3,1139.9L1865.4,1135.6L1865.6,1131.4L1866.2,1127.6L1867.2,1130.2L1868.4,1134.5L1869.3,1138.5L1869.8,1142.6L1870.1,1146.8L1870.4,1151.0L1870.6,1155.0L1870.8,1159.4L1871.1,1163.5L1871.3,1167.8L1871.5,1172.3L1871.6,1176.4L1871.8,1180.6L1872.2,1184.9L1872.6,1188.9L1873.6,1192.5L1874.6,1193.6L1876.1,1195.0L1878.0,1195.0L1880.1,1196.7L1881.8,1194.4L1883.6,1193.6L1885.0,1192.6L1886.5,1191.6L1888.3,1192.2L1889.9,1192.7L1891.5,1193.8L1893.4,1193.2L1895.1,1191.6L1896.7,1192.5L1898.0,1190.4L1899.4,1186.8L1900.4,1182.6L1901.1,1180.7L1902.6,1178.9L1904.3,1178.6L1905.9,1179.0L1907.4,1177.7L1908.7,1175.2L1909.7,1173.6L1910.7,1172.7L1911.1,1168.4L1911.5,1164.3L1911.7,1160.0L1912.0,1155.6L1912.2,1151.5L1912.4,1147.3L1912.6,1143.2L1912.8,1139.0L1912.9,1134.6L1913.1,1130.5L1913.2,1126.4L1913.3,1122.3L1913.4,1118.2L1913.6,1114.2L1913.7,1110.0L1913.8,1105.8L1913.9,1101.6L1914.1,1097.4L1914.2,1093.1L1914.4,1089.1L1914.6,1085.1L1914.8,1080.7L1915.1,1076.7L1915.4,1072.5L1915.8,1067.5L1916.2,1066.5L1917.0,1071.0L1917.3,1075.1L1917.4,1079.2L1917.6,1083.3L1917.7,1087.5L1917.8,1091.8L1917.9,1095.9L1918.0,1100.0L1918.1,1104.0L1918.2,1108.2L1918.3,1112.5L1918.4,1116.6L1918.5,1120.7L1918.6,1124.9L1918.7,1129.1L1918.8,1133.2L1918.9,1137.2L1919.0,1141.5L1919.1,1145.6L1919.2,1149.8L1919.4,1153.9L1919.5,1158.3L1919.7,1162.4L1919.8,1166.7L1920.0,1170.9L1920.1,1175.0L1920.3,1179.0L1920.4,1183.2L1921.0,1187.5L1921.9,1191.6L1923.0,1194.7L1924.0,1196.4L1925.9,1195.7L1927.5,1195.8L1929.0,1195.3L1930.5,1192.9L1931.8,1192.0L1933.1,1191.4L1934.8,1189.3L1936.5,1187.6L1938.2,1188.3L1939.8,1187.1L1941.3,1183.8L1942.8,1183.8L1943.9,1181.6L1945.0,1177.8L1945.4,1173.7L1945.7,1169.5L1945.8,1165.3L1946.0,1161.3L1946.2,1157.0L1946.4,1152.8L1946.6,1148.5L1946.9,1144.2L1947.5,1139.4L1948.6,1138.1L1949.0,1138.0"/>
</g>
<line x1="687.9" y1="1198.7" x2="811.6" y2="1265.1" stroke="#000" stroke-width="2"/>
<line x1="1908.7" y1="1189.4" x2="1831.6" y2="1288.6" stroke="#000" stroke-width="2"/>
<polygon points="868.0,1246.1 878.7,1276.1 912.2,1276.1 885.9,1296.3 895.8,1327.8 868.0,1309.7 840.2,1327.8 850.2,1296.3 823.9,1276.1 857.3,1276.1" fill="#3CBF71"/>
<polygon points="1800.3,1281 1841,1320.5 1800.3,1360.8 1759.2,1320.5" fill="#3CBF71"/>
<text x="193.5" y="1511.4" text-anchor="middle" font-size="60">3000</text><text x="412.9" y="1511.4" text-anchor="middle" font-size="60">2700</text><text x="632.4" y="1511.4" text-anchor="middle" font-size="60">2400</text><text x="851.8" y="1511.4" text-anchor="middle" font-size="60">2100</text><text x="1071.2" y="1511.4" text-anchor="middle" font-size="60">1800</text><text x="1290.7" y="1511.4" text-anchor="middle" font-size="60">1500</text><text x="1510.1" y="1511.4" text-anchor="middle" font-size="60">1200</text><text x="1729.6" y="1511.4" text-anchor="middle" font-size="60">900</text><text x="1949.0" y="1511.4" text-anchor="middle" font-size="60">600</text>
<text y="753" font-size="72" id="la"><tspan x="1745">(</tspan><tspan x="1768.7">a</tspan><tspan x="1813">)</tspan></text>
<text y="1104" font-size="72" id="lb"><tspan x="1749.6">(</tspan><tspan x="1774.4">b</tspan><tspan x="1817.9">)</tspan></text>
<text id="xl" font-size="74" y="1636.8"><tspan x="741.5">Wavenumber </tspan><tspan x="1198.9">(cm</tspan><tspan x="1319.4" y="1612.3" font-size="52">−</tspan><tspan x="1346" y="1608.1" font-size="52">1</tspan><tspan x="1380.5" y="1636.8">)</tspan></text>
<text transform="translate(80,1014.1) rotate(-90) scale(1,1.04)" font-size="72" id="yl">Transmittance (a.u.)</text>
</svg>
</body></html>
